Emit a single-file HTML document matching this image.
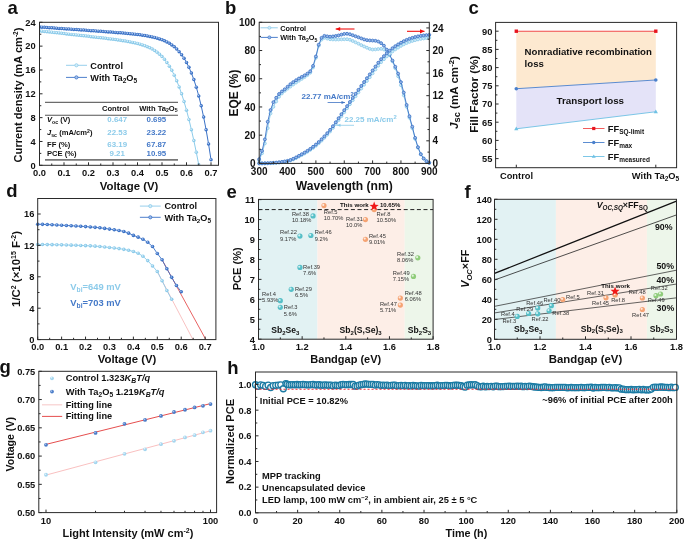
<!DOCTYPE html><html><head><meta charset="utf-8"><style>html,body{margin:0;padding:0;background:#fff;overflow:hidden}svg{display:block;filter:blur(0.45px)}</style></head><body><svg width="685" height="539" viewBox="0 0 685 539" font-family="Liberation Sans, sans-serif">
<rect width="685" height="539" fill="#fff"/>
<text x="7.40" y="14.40" font-size="18.5" font-weight="bold" text-anchor="start" fill="#111" >a</text>
<clipPath id="ca"><rect x="40.0" y="22.8" width="178.0" height="142.0"/></clipPath><g clip-path="url(#ca)">
<polyline points="39.50,30.87 41.95,31.14 44.40,31.42 46.85,31.69 49.30,31.96 51.75,32.24 54.20,32.51 56.65,32.79 59.10,33.06 61.55,33.33 64.00,33.61 66.45,33.88 68.90,34.16 71.35,34.43 73.80,34.71 76.25,34.98 78.70,35.26 81.15,35.53 83.60,35.81 86.05,36.09 88.50,36.37 90.95,36.65 93.40,36.93 95.85,37.21 98.30,37.50 100.75,37.79 103.20,38.08 105.65,38.37 108.10,38.68 110.55,38.98 113.00,39.30 115.45,39.62 117.90,39.96 120.35,40.30 122.80,40.67 125.25,41.06 127.70,41.47 130.15,41.91 132.60,42.39 135.05,42.92 137.50,43.50 139.95,44.15 142.40,44.88 144.85,45.72 147.30,46.67 149.75,47.77 152.20,49.04 154.65,50.51 157.10,52.23 159.55,54.24 162.00,56.58 164.45,59.30 166.90,62.47 169.35,66.14 171.80,70.36 174.25,75.19 176.70,80.69 179.15,86.90 181.60,93.87 184.05,101.61 186.50,110.15 188.95,119.50 191.40,129.66 193.85,140.61 196.30,152.33 198.75,164.81" fill="none" stroke="#8ccbea" stroke-width="1.0" />
<circle cx="39.50" cy="30.87" r="1.75" fill="#8ccbea"/>
<circle cx="39.15" cy="30.52" r="0.79" fill="#e2f3fb"/>
<circle cx="41.95" cy="31.14" r="1.75" fill="#8ccbea"/>
<circle cx="41.60" cy="30.79" r="0.79" fill="#e2f3fb"/>
<circle cx="44.40" cy="31.42" r="1.75" fill="#8ccbea"/>
<circle cx="44.05" cy="31.07" r="0.79" fill="#e2f3fb"/>
<circle cx="46.85" cy="31.69" r="1.75" fill="#8ccbea"/>
<circle cx="46.50" cy="31.34" r="0.79" fill="#e2f3fb"/>
<circle cx="49.30" cy="31.96" r="1.75" fill="#8ccbea"/>
<circle cx="48.95" cy="31.61" r="0.79" fill="#e2f3fb"/>
<circle cx="51.75" cy="32.24" r="1.75" fill="#8ccbea"/>
<circle cx="51.40" cy="31.89" r="0.79" fill="#e2f3fb"/>
<circle cx="54.20" cy="32.51" r="1.75" fill="#8ccbea"/>
<circle cx="53.85" cy="32.16" r="0.79" fill="#e2f3fb"/>
<circle cx="56.65" cy="32.79" r="1.75" fill="#8ccbea"/>
<circle cx="56.30" cy="32.44" r="0.79" fill="#e2f3fb"/>
<circle cx="59.10" cy="33.06" r="1.75" fill="#8ccbea"/>
<circle cx="58.75" cy="32.71" r="0.79" fill="#e2f3fb"/>
<circle cx="61.55" cy="33.33" r="1.75" fill="#8ccbea"/>
<circle cx="61.20" cy="32.98" r="0.79" fill="#e2f3fb"/>
<circle cx="64.00" cy="33.61" r="1.75" fill="#8ccbea"/>
<circle cx="63.65" cy="33.26" r="0.79" fill="#e2f3fb"/>
<circle cx="66.45" cy="33.88" r="1.75" fill="#8ccbea"/>
<circle cx="66.10" cy="33.53" r="0.79" fill="#e2f3fb"/>
<circle cx="68.90" cy="34.16" r="1.75" fill="#8ccbea"/>
<circle cx="68.55" cy="33.81" r="0.79" fill="#e2f3fb"/>
<circle cx="71.35" cy="34.43" r="1.75" fill="#8ccbea"/>
<circle cx="71.00" cy="34.08" r="0.79" fill="#e2f3fb"/>
<circle cx="73.80" cy="34.71" r="1.75" fill="#8ccbea"/>
<circle cx="73.45" cy="34.36" r="0.79" fill="#e2f3fb"/>
<circle cx="76.25" cy="34.98" r="1.75" fill="#8ccbea"/>
<circle cx="75.90" cy="34.63" r="0.79" fill="#e2f3fb"/>
<circle cx="78.70" cy="35.26" r="1.75" fill="#8ccbea"/>
<circle cx="78.35" cy="34.91" r="0.79" fill="#e2f3fb"/>
<circle cx="81.15" cy="35.53" r="1.75" fill="#8ccbea"/>
<circle cx="80.80" cy="35.18" r="0.79" fill="#e2f3fb"/>
<circle cx="83.60" cy="35.81" r="1.75" fill="#8ccbea"/>
<circle cx="83.25" cy="35.46" r="0.79" fill="#e2f3fb"/>
<circle cx="86.05" cy="36.09" r="1.75" fill="#8ccbea"/>
<circle cx="85.70" cy="35.74" r="0.79" fill="#e2f3fb"/>
<circle cx="88.50" cy="36.37" r="1.75" fill="#8ccbea"/>
<circle cx="88.15" cy="36.02" r="0.79" fill="#e2f3fb"/>
<circle cx="90.95" cy="36.65" r="1.75" fill="#8ccbea"/>
<circle cx="90.60" cy="36.30" r="0.79" fill="#e2f3fb"/>
<circle cx="93.40" cy="36.93" r="1.75" fill="#8ccbea"/>
<circle cx="93.05" cy="36.58" r="0.79" fill="#e2f3fb"/>
<circle cx="95.85" cy="37.21" r="1.75" fill="#8ccbea"/>
<circle cx="95.50" cy="36.86" r="0.79" fill="#e2f3fb"/>
<circle cx="98.30" cy="37.50" r="1.75" fill="#8ccbea"/>
<circle cx="97.95" cy="37.15" r="0.79" fill="#e2f3fb"/>
<circle cx="100.75" cy="37.79" r="1.75" fill="#8ccbea"/>
<circle cx="100.40" cy="37.44" r="0.79" fill="#e2f3fb"/>
<circle cx="103.20" cy="38.08" r="1.75" fill="#8ccbea"/>
<circle cx="102.85" cy="37.73" r="0.79" fill="#e2f3fb"/>
<circle cx="105.65" cy="38.37" r="1.75" fill="#8ccbea"/>
<circle cx="105.30" cy="38.02" r="0.79" fill="#e2f3fb"/>
<circle cx="108.10" cy="38.68" r="1.75" fill="#8ccbea"/>
<circle cx="107.75" cy="38.33" r="0.79" fill="#e2f3fb"/>
<circle cx="110.55" cy="38.98" r="1.75" fill="#8ccbea"/>
<circle cx="110.20" cy="38.63" r="0.79" fill="#e2f3fb"/>
<circle cx="113.00" cy="39.30" r="1.75" fill="#8ccbea"/>
<circle cx="112.65" cy="38.95" r="0.79" fill="#e2f3fb"/>
<circle cx="115.45" cy="39.62" r="1.75" fill="#8ccbea"/>
<circle cx="115.10" cy="39.27" r="0.79" fill="#e2f3fb"/>
<circle cx="117.90" cy="39.96" r="1.75" fill="#8ccbea"/>
<circle cx="117.55" cy="39.61" r="0.79" fill="#e2f3fb"/>
<circle cx="120.35" cy="40.30" r="1.75" fill="#8ccbea"/>
<circle cx="120.00" cy="39.95" r="0.79" fill="#e2f3fb"/>
<circle cx="122.80" cy="40.67" r="1.75" fill="#8ccbea"/>
<circle cx="122.45" cy="40.32" r="0.79" fill="#e2f3fb"/>
<circle cx="125.25" cy="41.06" r="1.75" fill="#8ccbea"/>
<circle cx="124.90" cy="40.71" r="0.79" fill="#e2f3fb"/>
<circle cx="127.70" cy="41.47" r="1.75" fill="#8ccbea"/>
<circle cx="127.35" cy="41.12" r="0.79" fill="#e2f3fb"/>
<circle cx="130.15" cy="41.91" r="1.75" fill="#8ccbea"/>
<circle cx="129.80" cy="41.56" r="0.79" fill="#e2f3fb"/>
<circle cx="132.60" cy="42.39" r="1.75" fill="#8ccbea"/>
<circle cx="132.25" cy="42.04" r="0.79" fill="#e2f3fb"/>
<circle cx="135.05" cy="42.92" r="1.75" fill="#8ccbea"/>
<circle cx="134.70" cy="42.57" r="0.79" fill="#e2f3fb"/>
<circle cx="137.50" cy="43.50" r="1.75" fill="#8ccbea"/>
<circle cx="137.15" cy="43.15" r="0.79" fill="#e2f3fb"/>
<circle cx="139.95" cy="44.15" r="1.75" fill="#8ccbea"/>
<circle cx="139.60" cy="43.80" r="0.79" fill="#e2f3fb"/>
<circle cx="142.40" cy="44.88" r="1.75" fill="#8ccbea"/>
<circle cx="142.05" cy="44.53" r="0.79" fill="#e2f3fb"/>
<circle cx="144.85" cy="45.72" r="1.75" fill="#8ccbea"/>
<circle cx="144.50" cy="45.37" r="0.79" fill="#e2f3fb"/>
<circle cx="147.30" cy="46.67" r="1.75" fill="#8ccbea"/>
<circle cx="146.95" cy="46.32" r="0.79" fill="#e2f3fb"/>
<circle cx="149.75" cy="47.77" r="1.75" fill="#8ccbea"/>
<circle cx="149.40" cy="47.42" r="0.79" fill="#e2f3fb"/>
<circle cx="152.20" cy="49.04" r="1.75" fill="#8ccbea"/>
<circle cx="151.85" cy="48.69" r="0.79" fill="#e2f3fb"/>
<circle cx="154.65" cy="50.51" r="1.75" fill="#8ccbea"/>
<circle cx="154.30" cy="50.16" r="0.79" fill="#e2f3fb"/>
<circle cx="157.10" cy="52.23" r="1.75" fill="#8ccbea"/>
<circle cx="156.75" cy="51.88" r="0.79" fill="#e2f3fb"/>
<circle cx="159.55" cy="54.24" r="1.75" fill="#8ccbea"/>
<circle cx="159.20" cy="53.89" r="0.79" fill="#e2f3fb"/>
<circle cx="162.00" cy="56.58" r="1.75" fill="#8ccbea"/>
<circle cx="161.65" cy="56.23" r="0.79" fill="#e2f3fb"/>
<circle cx="164.45" cy="59.30" r="1.75" fill="#8ccbea"/>
<circle cx="164.10" cy="58.95" r="0.79" fill="#e2f3fb"/>
<circle cx="166.90" cy="62.47" r="1.75" fill="#8ccbea"/>
<circle cx="166.55" cy="62.12" r="0.79" fill="#e2f3fb"/>
<circle cx="169.35" cy="66.14" r="1.75" fill="#8ccbea"/>
<circle cx="169.00" cy="65.79" r="0.79" fill="#e2f3fb"/>
<circle cx="171.80" cy="70.36" r="1.75" fill="#8ccbea"/>
<circle cx="171.45" cy="70.01" r="0.79" fill="#e2f3fb"/>
<circle cx="174.25" cy="75.19" r="1.75" fill="#8ccbea"/>
<circle cx="173.90" cy="74.84" r="0.79" fill="#e2f3fb"/>
<circle cx="176.70" cy="80.69" r="1.75" fill="#8ccbea"/>
<circle cx="176.35" cy="80.34" r="0.79" fill="#e2f3fb"/>
<circle cx="179.15" cy="86.90" r="1.75" fill="#8ccbea"/>
<circle cx="178.80" cy="86.55" r="0.79" fill="#e2f3fb"/>
<circle cx="181.60" cy="93.87" r="1.75" fill="#8ccbea"/>
<circle cx="181.25" cy="93.52" r="0.79" fill="#e2f3fb"/>
<circle cx="184.05" cy="101.61" r="1.75" fill="#8ccbea"/>
<circle cx="183.70" cy="101.26" r="0.79" fill="#e2f3fb"/>
<circle cx="186.50" cy="110.15" r="1.75" fill="#8ccbea"/>
<circle cx="186.15" cy="109.80" r="0.79" fill="#e2f3fb"/>
<circle cx="188.95" cy="119.50" r="1.75" fill="#8ccbea"/>
<circle cx="188.60" cy="119.15" r="0.79" fill="#e2f3fb"/>
<circle cx="191.40" cy="129.66" r="1.75" fill="#8ccbea"/>
<circle cx="191.05" cy="129.31" r="0.79" fill="#e2f3fb"/>
<circle cx="193.85" cy="140.61" r="1.75" fill="#8ccbea"/>
<circle cx="193.50" cy="140.26" r="0.79" fill="#e2f3fb"/>
<circle cx="196.30" cy="152.33" r="1.75" fill="#8ccbea"/>
<circle cx="195.95" cy="151.98" r="0.79" fill="#e2f3fb"/>
<circle cx="198.75" cy="164.81" r="1.75" fill="#8ccbea"/>
<circle cx="198.40" cy="164.46" r="0.79" fill="#e2f3fb"/>
<polyline points="39.50,27.00 41.95,27.18 44.40,27.35 46.85,27.52 49.30,27.69 51.75,27.87 54.20,28.04 56.65,28.21 59.10,28.38 61.55,28.56 64.00,28.73 66.45,28.90 68.90,29.07 71.35,29.25 73.80,29.42 76.25,29.59 78.70,29.77 81.15,29.94 83.60,30.12 86.05,30.29 88.50,30.46 90.95,30.64 93.40,30.82 95.85,30.99 98.30,31.17 100.75,31.35 103.20,31.53 105.65,31.71 108.10,31.90 110.55,32.08 113.00,32.27 115.45,32.46 117.90,32.66 120.35,32.86 122.80,33.07 125.25,33.29 127.70,33.51 130.15,33.75 132.60,34.00 135.05,34.26 137.50,34.54 139.95,34.85 142.40,35.18 144.85,35.54 147.30,35.95 149.75,36.40 152.20,36.90 154.65,37.48 157.10,38.14 159.55,38.89 162.00,39.76 164.45,40.77 166.90,41.95 169.35,43.32 171.80,44.93 174.25,46.82 176.70,49.04 179.15,51.64 181.60,54.69 184.05,58.27 186.50,62.46 188.95,67.35 191.40,73.04 193.85,79.62 196.30,87.22 198.75,95.92 201.20,105.86 203.65,117.11 206.10,129.78 208.55,143.95 211.00,159.68" fill="none" stroke="#3b72c6" stroke-width="1.0" />
<circle cx="39.50" cy="27.00" r="1.75" fill="#3b72c6"/>
<circle cx="39.15" cy="26.65" r="0.79" fill="#b4cbef"/>
<circle cx="41.95" cy="27.18" r="1.75" fill="#3b72c6"/>
<circle cx="41.60" cy="26.83" r="0.79" fill="#b4cbef"/>
<circle cx="44.40" cy="27.35" r="1.75" fill="#3b72c6"/>
<circle cx="44.05" cy="27.00" r="0.79" fill="#b4cbef"/>
<circle cx="46.85" cy="27.52" r="1.75" fill="#3b72c6"/>
<circle cx="46.50" cy="27.17" r="0.79" fill="#b4cbef"/>
<circle cx="49.30" cy="27.69" r="1.75" fill="#3b72c6"/>
<circle cx="48.95" cy="27.34" r="0.79" fill="#b4cbef"/>
<circle cx="51.75" cy="27.87" r="1.75" fill="#3b72c6"/>
<circle cx="51.40" cy="27.52" r="0.79" fill="#b4cbef"/>
<circle cx="54.20" cy="28.04" r="1.75" fill="#3b72c6"/>
<circle cx="53.85" cy="27.69" r="0.79" fill="#b4cbef"/>
<circle cx="56.65" cy="28.21" r="1.75" fill="#3b72c6"/>
<circle cx="56.30" cy="27.86" r="0.79" fill="#b4cbef"/>
<circle cx="59.10" cy="28.38" r="1.75" fill="#3b72c6"/>
<circle cx="58.75" cy="28.03" r="0.79" fill="#b4cbef"/>
<circle cx="61.55" cy="28.56" r="1.75" fill="#3b72c6"/>
<circle cx="61.20" cy="28.21" r="0.79" fill="#b4cbef"/>
<circle cx="64.00" cy="28.73" r="1.75" fill="#3b72c6"/>
<circle cx="63.65" cy="28.38" r="0.79" fill="#b4cbef"/>
<circle cx="66.45" cy="28.90" r="1.75" fill="#3b72c6"/>
<circle cx="66.10" cy="28.55" r="0.79" fill="#b4cbef"/>
<circle cx="68.90" cy="29.07" r="1.75" fill="#3b72c6"/>
<circle cx="68.55" cy="28.72" r="0.79" fill="#b4cbef"/>
<circle cx="71.35" cy="29.25" r="1.75" fill="#3b72c6"/>
<circle cx="71.00" cy="28.90" r="0.79" fill="#b4cbef"/>
<circle cx="73.80" cy="29.42" r="1.75" fill="#3b72c6"/>
<circle cx="73.45" cy="29.07" r="0.79" fill="#b4cbef"/>
<circle cx="76.25" cy="29.59" r="1.75" fill="#3b72c6"/>
<circle cx="75.90" cy="29.24" r="0.79" fill="#b4cbef"/>
<circle cx="78.70" cy="29.77" r="1.75" fill="#3b72c6"/>
<circle cx="78.35" cy="29.42" r="0.79" fill="#b4cbef"/>
<circle cx="81.15" cy="29.94" r="1.75" fill="#3b72c6"/>
<circle cx="80.80" cy="29.59" r="0.79" fill="#b4cbef"/>
<circle cx="83.60" cy="30.12" r="1.75" fill="#3b72c6"/>
<circle cx="83.25" cy="29.77" r="0.79" fill="#b4cbef"/>
<circle cx="86.05" cy="30.29" r="1.75" fill="#3b72c6"/>
<circle cx="85.70" cy="29.94" r="0.79" fill="#b4cbef"/>
<circle cx="88.50" cy="30.46" r="1.75" fill="#3b72c6"/>
<circle cx="88.15" cy="30.11" r="0.79" fill="#b4cbef"/>
<circle cx="90.95" cy="30.64" r="1.75" fill="#3b72c6"/>
<circle cx="90.60" cy="30.29" r="0.79" fill="#b4cbef"/>
<circle cx="93.40" cy="30.82" r="1.75" fill="#3b72c6"/>
<circle cx="93.05" cy="30.47" r="0.79" fill="#b4cbef"/>
<circle cx="95.85" cy="30.99" r="1.75" fill="#3b72c6"/>
<circle cx="95.50" cy="30.64" r="0.79" fill="#b4cbef"/>
<circle cx="98.30" cy="31.17" r="1.75" fill="#3b72c6"/>
<circle cx="97.95" cy="30.82" r="0.79" fill="#b4cbef"/>
<circle cx="100.75" cy="31.35" r="1.75" fill="#3b72c6"/>
<circle cx="100.40" cy="31.00" r="0.79" fill="#b4cbef"/>
<circle cx="103.20" cy="31.53" r="1.75" fill="#3b72c6"/>
<circle cx="102.85" cy="31.18" r="0.79" fill="#b4cbef"/>
<circle cx="105.65" cy="31.71" r="1.75" fill="#3b72c6"/>
<circle cx="105.30" cy="31.36" r="0.79" fill="#b4cbef"/>
<circle cx="108.10" cy="31.90" r="1.75" fill="#3b72c6"/>
<circle cx="107.75" cy="31.55" r="0.79" fill="#b4cbef"/>
<circle cx="110.55" cy="32.08" r="1.75" fill="#3b72c6"/>
<circle cx="110.20" cy="31.73" r="0.79" fill="#b4cbef"/>
<circle cx="113.00" cy="32.27" r="1.75" fill="#3b72c6"/>
<circle cx="112.65" cy="31.92" r="0.79" fill="#b4cbef"/>
<circle cx="115.45" cy="32.46" r="1.75" fill="#3b72c6"/>
<circle cx="115.10" cy="32.11" r="0.79" fill="#b4cbef"/>
<circle cx="117.90" cy="32.66" r="1.75" fill="#3b72c6"/>
<circle cx="117.55" cy="32.31" r="0.79" fill="#b4cbef"/>
<circle cx="120.35" cy="32.86" r="1.75" fill="#3b72c6"/>
<circle cx="120.00" cy="32.51" r="0.79" fill="#b4cbef"/>
<circle cx="122.80" cy="33.07" r="1.75" fill="#3b72c6"/>
<circle cx="122.45" cy="32.72" r="0.79" fill="#b4cbef"/>
<circle cx="125.25" cy="33.29" r="1.75" fill="#3b72c6"/>
<circle cx="124.90" cy="32.94" r="0.79" fill="#b4cbef"/>
<circle cx="127.70" cy="33.51" r="1.75" fill="#3b72c6"/>
<circle cx="127.35" cy="33.16" r="0.79" fill="#b4cbef"/>
<circle cx="130.15" cy="33.75" r="1.75" fill="#3b72c6"/>
<circle cx="129.80" cy="33.40" r="0.79" fill="#b4cbef"/>
<circle cx="132.60" cy="34.00" r="1.75" fill="#3b72c6"/>
<circle cx="132.25" cy="33.65" r="0.79" fill="#b4cbef"/>
<circle cx="135.05" cy="34.26" r="1.75" fill="#3b72c6"/>
<circle cx="134.70" cy="33.91" r="0.79" fill="#b4cbef"/>
<circle cx="137.50" cy="34.54" r="1.75" fill="#3b72c6"/>
<circle cx="137.15" cy="34.19" r="0.79" fill="#b4cbef"/>
<circle cx="139.95" cy="34.85" r="1.75" fill="#3b72c6"/>
<circle cx="139.60" cy="34.50" r="0.79" fill="#b4cbef"/>
<circle cx="142.40" cy="35.18" r="1.75" fill="#3b72c6"/>
<circle cx="142.05" cy="34.83" r="0.79" fill="#b4cbef"/>
<circle cx="144.85" cy="35.54" r="1.75" fill="#3b72c6"/>
<circle cx="144.50" cy="35.19" r="0.79" fill="#b4cbef"/>
<circle cx="147.30" cy="35.95" r="1.75" fill="#3b72c6"/>
<circle cx="146.95" cy="35.60" r="0.79" fill="#b4cbef"/>
<circle cx="149.75" cy="36.40" r="1.75" fill="#3b72c6"/>
<circle cx="149.40" cy="36.05" r="0.79" fill="#b4cbef"/>
<circle cx="152.20" cy="36.90" r="1.75" fill="#3b72c6"/>
<circle cx="151.85" cy="36.55" r="0.79" fill="#b4cbef"/>
<circle cx="154.65" cy="37.48" r="1.75" fill="#3b72c6"/>
<circle cx="154.30" cy="37.13" r="0.79" fill="#b4cbef"/>
<circle cx="157.10" cy="38.14" r="1.75" fill="#3b72c6"/>
<circle cx="156.75" cy="37.79" r="0.79" fill="#b4cbef"/>
<circle cx="159.55" cy="38.89" r="1.75" fill="#3b72c6"/>
<circle cx="159.20" cy="38.54" r="0.79" fill="#b4cbef"/>
<circle cx="162.00" cy="39.76" r="1.75" fill="#3b72c6"/>
<circle cx="161.65" cy="39.41" r="0.79" fill="#b4cbef"/>
<circle cx="164.45" cy="40.77" r="1.75" fill="#3b72c6"/>
<circle cx="164.10" cy="40.42" r="0.79" fill="#b4cbef"/>
<circle cx="166.90" cy="41.95" r="1.75" fill="#3b72c6"/>
<circle cx="166.55" cy="41.60" r="0.79" fill="#b4cbef"/>
<circle cx="169.35" cy="43.32" r="1.75" fill="#3b72c6"/>
<circle cx="169.00" cy="42.97" r="0.79" fill="#b4cbef"/>
<circle cx="171.80" cy="44.93" r="1.75" fill="#3b72c6"/>
<circle cx="171.45" cy="44.58" r="0.79" fill="#b4cbef"/>
<circle cx="174.25" cy="46.82" r="1.75" fill="#3b72c6"/>
<circle cx="173.90" cy="46.47" r="0.79" fill="#b4cbef"/>
<circle cx="176.70" cy="49.04" r="1.75" fill="#3b72c6"/>
<circle cx="176.35" cy="48.69" r="0.79" fill="#b4cbef"/>
<circle cx="179.15" cy="51.64" r="1.75" fill="#3b72c6"/>
<circle cx="178.80" cy="51.29" r="0.79" fill="#b4cbef"/>
<circle cx="181.60" cy="54.69" r="1.75" fill="#3b72c6"/>
<circle cx="181.25" cy="54.34" r="0.79" fill="#b4cbef"/>
<circle cx="184.05" cy="58.27" r="1.75" fill="#3b72c6"/>
<circle cx="183.70" cy="57.92" r="0.79" fill="#b4cbef"/>
<circle cx="186.50" cy="62.46" r="1.75" fill="#3b72c6"/>
<circle cx="186.15" cy="62.11" r="0.79" fill="#b4cbef"/>
<circle cx="188.95" cy="67.35" r="1.75" fill="#3b72c6"/>
<circle cx="188.60" cy="67.00" r="0.79" fill="#b4cbef"/>
<circle cx="191.40" cy="73.04" r="1.75" fill="#3b72c6"/>
<circle cx="191.05" cy="72.69" r="0.79" fill="#b4cbef"/>
<circle cx="193.85" cy="79.62" r="1.75" fill="#3b72c6"/>
<circle cx="193.50" cy="79.27" r="0.79" fill="#b4cbef"/>
<circle cx="196.30" cy="87.22" r="1.75" fill="#3b72c6"/>
<circle cx="195.95" cy="86.87" r="0.79" fill="#b4cbef"/>
<circle cx="198.75" cy="95.92" r="1.75" fill="#3b72c6"/>
<circle cx="198.40" cy="95.57" r="0.79" fill="#b4cbef"/>
<circle cx="201.20" cy="105.86" r="1.75" fill="#3b72c6"/>
<circle cx="200.85" cy="105.51" r="0.79" fill="#b4cbef"/>
<circle cx="203.65" cy="117.11" r="1.75" fill="#3b72c6"/>
<circle cx="203.30" cy="116.76" r="0.79" fill="#b4cbef"/>
<circle cx="206.10" cy="129.78" r="1.75" fill="#3b72c6"/>
<circle cx="205.75" cy="129.43" r="0.79" fill="#b4cbef"/>
<circle cx="208.55" cy="143.95" r="1.75" fill="#3b72c6"/>
<circle cx="208.20" cy="143.60" r="0.79" fill="#b4cbef"/>
<circle cx="211.00" cy="159.68" r="1.75" fill="#3b72c6"/>
<circle cx="210.65" cy="159.33" r="0.79" fill="#b4cbef"/>
</g>
<rect x="39.50" y="22.30" width="179.00" height="143.00" fill="none" stroke="#2a2a2a" stroke-width="1"/>
<line x1="39.50" y1="165.30" x2="39.50" y2="162.30" stroke="#2a2a2a" stroke-width="1" />
<line x1="64.00" y1="165.30" x2="64.00" y2="162.30" stroke="#2a2a2a" stroke-width="1" />
<line x1="88.50" y1="165.30" x2="88.50" y2="162.30" stroke="#2a2a2a" stroke-width="1" />
<line x1="113.00" y1="165.30" x2="113.00" y2="162.30" stroke="#2a2a2a" stroke-width="1" />
<line x1="137.50" y1="165.30" x2="137.50" y2="162.30" stroke="#2a2a2a" stroke-width="1" />
<line x1="162.00" y1="165.30" x2="162.00" y2="162.30" stroke="#2a2a2a" stroke-width="1" />
<line x1="186.50" y1="165.30" x2="186.50" y2="162.30" stroke="#2a2a2a" stroke-width="1" />
<line x1="211.00" y1="165.30" x2="211.00" y2="162.30" stroke="#2a2a2a" stroke-width="1" />
<line x1="51.75" y1="165.30" x2="51.75" y2="163.50" stroke="#2a2a2a" stroke-width="1" />
<line x1="76.25" y1="165.30" x2="76.25" y2="163.50" stroke="#2a2a2a" stroke-width="1" />
<line x1="100.75" y1="165.30" x2="100.75" y2="163.50" stroke="#2a2a2a" stroke-width="1" />
<line x1="125.25" y1="165.30" x2="125.25" y2="163.50" stroke="#2a2a2a" stroke-width="1" />
<line x1="149.75" y1="165.30" x2="149.75" y2="163.50" stroke="#2a2a2a" stroke-width="1" />
<line x1="174.25" y1="165.30" x2="174.25" y2="163.50" stroke="#2a2a2a" stroke-width="1" />
<line x1="198.75" y1="165.30" x2="198.75" y2="163.50" stroke="#2a2a2a" stroke-width="1" />
<line x1="39.50" y1="165.30" x2="42.50" y2="165.30" stroke="#2a2a2a" stroke-width="1" />
<line x1="39.50" y1="141.47" x2="42.50" y2="141.47" stroke="#2a2a2a" stroke-width="1" />
<line x1="39.50" y1="117.63" x2="42.50" y2="117.63" stroke="#2a2a2a" stroke-width="1" />
<line x1="39.50" y1="93.80" x2="42.50" y2="93.80" stroke="#2a2a2a" stroke-width="1" />
<line x1="39.50" y1="69.97" x2="42.50" y2="69.97" stroke="#2a2a2a" stroke-width="1" />
<line x1="39.50" y1="46.13" x2="42.50" y2="46.13" stroke="#2a2a2a" stroke-width="1" />
<line x1="39.50" y1="22.30" x2="42.50" y2="22.30" stroke="#2a2a2a" stroke-width="1" />
<line x1="39.50" y1="153.38" x2="41.30" y2="153.38" stroke="#2a2a2a" stroke-width="1" />
<line x1="39.50" y1="129.55" x2="41.30" y2="129.55" stroke="#2a2a2a" stroke-width="1" />
<line x1="39.50" y1="105.72" x2="41.30" y2="105.72" stroke="#2a2a2a" stroke-width="1" />
<line x1="39.50" y1="81.88" x2="41.30" y2="81.88" stroke="#2a2a2a" stroke-width="1" />
<line x1="39.50" y1="58.05" x2="41.30" y2="58.05" stroke="#2a2a2a" stroke-width="1" />
<line x1="39.50" y1="34.22" x2="41.30" y2="34.22" stroke="#2a2a2a" stroke-width="1" />
<text x="39.50" y="176.30" font-size="9.3" font-weight="bold" text-anchor="middle" fill="#111" >0.0</text>
<text x="64.00" y="176.30" font-size="9.3" font-weight="bold" text-anchor="middle" fill="#111" >0.1</text>
<text x="88.50" y="176.30" font-size="9.3" font-weight="bold" text-anchor="middle" fill="#111" >0.2</text>
<text x="113.00" y="176.30" font-size="9.3" font-weight="bold" text-anchor="middle" fill="#111" >0.3</text>
<text x="137.50" y="176.30" font-size="9.3" font-weight="bold" text-anchor="middle" fill="#111" >0.4</text>
<text x="162.00" y="176.30" font-size="9.3" font-weight="bold" text-anchor="middle" fill="#111" >0.5</text>
<text x="186.50" y="176.30" font-size="9.3" font-weight="bold" text-anchor="middle" fill="#111" >0.6</text>
<text x="211.00" y="176.30" font-size="9.3" font-weight="bold" text-anchor="middle" fill="#111" >0.7</text>
<text x="35.60" y="168.65" font-size="9.3" font-weight="bold" text-anchor="end" fill="#111" >0</text>
<text x="35.60" y="144.82" font-size="9.3" font-weight="bold" text-anchor="end" fill="#111" >4</text>
<text x="35.60" y="120.98" font-size="9.3" font-weight="bold" text-anchor="end" fill="#111" >8</text>
<text x="35.60" y="97.15" font-size="9.3" font-weight="bold" text-anchor="end" fill="#111" >12</text>
<text x="35.60" y="73.32" font-size="9.3" font-weight="bold" text-anchor="end" fill="#111" >16</text>
<text x="35.60" y="49.48" font-size="9.3" font-weight="bold" text-anchor="end" fill="#111" >20</text>
<text x="35.60" y="25.65" font-size="9.3" font-weight="bold" text-anchor="end" fill="#111" >24</text>
<text x="129.00" y="189.50" font-size="11.4" font-weight="bold" text-anchor="middle" fill="#111" >Voltage (V)</text>
<text transform="translate(21.90,95.00) rotate(-90)" font-size="11.1" font-weight="bold" text-anchor="middle" fill="#111">Current density (mA cm<tspan dy="-3.5" font-size="6.5">-2</tspan><tspan dy="3.5">​</tspan>)</text>
<line x1="66.00" y1="65.30" x2="87.00" y2="65.30" stroke="#8ccbea" stroke-width="0.9" />
<circle cx="76.40" cy="65.30" r="1.6" fill="#d6eef9" stroke="#8ccbea" stroke-width="0.8"/>
<line x1="66.00" y1="77.40" x2="87.00" y2="77.40" stroke="#3b72c6" stroke-width="0.9" />
<circle cx="76.40" cy="77.40" r="1.6" fill="#a9c3ec" stroke="#3b72c6" stroke-width="0.8"/>
<text x="90.30" y="68.70" font-size="9.2" font-weight="bold" text-anchor="start" fill="#111" >Control</text>
<text x="90.30" y="80.80" font-size="9.2" font-weight="bold" text-anchor="start" fill="#111" >With Ta<tspan dy="2" font-size="6.5">2</tspan><tspan dy="-2">​</tspan>O<tspan dy="2" font-size="6.5">5</tspan><tspan dy="-2">​</tspan></text>
<line x1="45.00" y1="102.30" x2="178.00" y2="102.30" stroke="#333" stroke-width="0.9" />
<line x1="45.00" y1="115.20" x2="178.00" y2="115.20" stroke="#555" stroke-width="1.1" />
<line x1="45.00" y1="159.80" x2="178.00" y2="159.80" stroke="#777" stroke-width="1.7" />
<text x="115.50" y="110.70" font-size="7.6" font-weight="bold" text-anchor="middle" fill="#111" >Control</text>
<text x="158.40" y="110.70" font-size="7.6" font-weight="bold" text-anchor="middle" fill="#111" >With Ta<tspan dy="1.6" font-size="5.2">2</tspan><tspan dy="-1.6">​</tspan>O<tspan dy="1.6" font-size="5.2">5</tspan><tspan dy="-1.6">​</tspan></text>
<text x="47.00" y="122.10" font-size="7.6" font-weight="bold" text-anchor="start" fill="#111" ><tspan font-style="italic">V</tspan><tspan dy="1.5" font-size="5.2">oc</tspan><tspan dy="-1.5">​</tspan> (V)</text>
<text x="47.00" y="135.20" font-size="7.6" font-weight="bold" text-anchor="start" fill="#111" ><tspan font-style="italic">J</tspan><tspan dy="1.5" font-size="5.2">sc</tspan><tspan dy="-1.5">​</tspan> (mA/cm<tspan dy="-2.5" font-size="5.2">2</tspan><tspan dy="2.5">​</tspan>)</text>
<text x="47.00" y="147.00" font-size="7.6" font-weight="bold" text-anchor="start" fill="#111" >FF (%)</text>
<text x="47.00" y="156.20" font-size="7.6" font-weight="bold" text-anchor="start" fill="#111" >PCE (%)</text>
<text x="117.20" y="122.10" font-size="7.9" font-weight="bold" text-anchor="middle" fill="#8ccbea" >0.647</text>
<text x="156.40" y="122.10" font-size="7.9" font-weight="bold" text-anchor="middle" fill="#4479c8" >0.695</text>
<text x="117.20" y="135.20" font-size="7.9" font-weight="bold" text-anchor="middle" fill="#8ccbea" >22.53</text>
<text x="156.40" y="135.20" font-size="7.9" font-weight="bold" text-anchor="middle" fill="#4479c8" >23.22</text>
<text x="117.20" y="147.00" font-size="7.9" font-weight="bold" text-anchor="middle" fill="#8ccbea" >63.19</text>
<text x="156.40" y="147.00" font-size="7.9" font-weight="bold" text-anchor="middle" fill="#4479c8" >67.87</text>
<text x="117.20" y="156.20" font-size="7.9" font-weight="bold" text-anchor="middle" fill="#8ccbea" >9.21</text>
<text x="156.40" y="156.20" font-size="7.9" font-weight="bold" text-anchor="middle" fill="#4479c8" >10.95</text>
<text x="225.00" y="13.90" font-size="18.5" font-weight="bold" text-anchor="start" fill="#111" >b</text>
<polyline points="259.20,160.58 262.03,153.28 264.87,143.43 267.70,128.12 270.54,113.45 273.38,106.76 276.21,101.43 279.05,96.68 281.88,93.47 284.71,90.88 287.55,88.66 290.38,86.57 293.22,84.49 296.06,82.57 298.89,80.71 301.73,78.88 304.56,77.10 307.39,75.12 310.23,72.72 313.06,67.45 315.90,57.84 318.74,45.77 321.57,39.58 324.40,37.83 327.24,38.58 330.07,39.25 332.91,39.42 335.75,39.51 338.58,39.48 341.42,39.37 344.25,39.28 347.08,39.23 349.92,39.78 352.75,41.01 355.59,42.34 358.43,43.66 361.26,45.12 364.10,46.45 366.93,47.71 369.76,48.92 372.60,49.53 375.44,49.39 378.27,49.06 381.11,48.84 383.94,49.49 386.78,51.59 389.61,55.16 392.45,61.27 395.28,68.14 398.12,76.27 400.95,85.22 403.79,95.32 406.62,106.81 409.46,117.74 412.29,128.12 415.12,138.92 417.96,147.70 420.80,154.23 423.63,158.51 426.47,161.21 429.30,162.84" fill="none" stroke="#8ccbea" stroke-width="0.9" />
<circle cx="259.20" cy="160.58" r="1.45" fill="#cfeaf8" stroke="#8ccbea" stroke-width="0.85"/>
<circle cx="262.03" cy="153.28" r="1.45" fill="#cfeaf8" stroke="#8ccbea" stroke-width="0.85"/>
<circle cx="264.87" cy="143.43" r="1.45" fill="#cfeaf8" stroke="#8ccbea" stroke-width="0.85"/>
<circle cx="267.70" cy="128.12" r="1.45" fill="#cfeaf8" stroke="#8ccbea" stroke-width="0.85"/>
<circle cx="270.54" cy="113.45" r="1.45" fill="#cfeaf8" stroke="#8ccbea" stroke-width="0.85"/>
<circle cx="273.38" cy="106.76" r="1.45" fill="#cfeaf8" stroke="#8ccbea" stroke-width="0.85"/>
<circle cx="276.21" cy="101.43" r="1.45" fill="#cfeaf8" stroke="#8ccbea" stroke-width="0.85"/>
<circle cx="279.05" cy="96.68" r="1.45" fill="#cfeaf8" stroke="#8ccbea" stroke-width="0.85"/>
<circle cx="281.88" cy="93.47" r="1.45" fill="#cfeaf8" stroke="#8ccbea" stroke-width="0.85"/>
<circle cx="284.71" cy="90.88" r="1.45" fill="#cfeaf8" stroke="#8ccbea" stroke-width="0.85"/>
<circle cx="287.55" cy="88.66" r="1.45" fill="#cfeaf8" stroke="#8ccbea" stroke-width="0.85"/>
<circle cx="290.38" cy="86.57" r="1.45" fill="#cfeaf8" stroke="#8ccbea" stroke-width="0.85"/>
<circle cx="293.22" cy="84.49" r="1.45" fill="#cfeaf8" stroke="#8ccbea" stroke-width="0.85"/>
<circle cx="296.06" cy="82.57" r="1.45" fill="#cfeaf8" stroke="#8ccbea" stroke-width="0.85"/>
<circle cx="298.89" cy="80.71" r="1.45" fill="#cfeaf8" stroke="#8ccbea" stroke-width="0.85"/>
<circle cx="301.73" cy="78.88" r="1.45" fill="#cfeaf8" stroke="#8ccbea" stroke-width="0.85"/>
<circle cx="304.56" cy="77.10" r="1.45" fill="#cfeaf8" stroke="#8ccbea" stroke-width="0.85"/>
<circle cx="307.39" cy="75.12" r="1.45" fill="#cfeaf8" stroke="#8ccbea" stroke-width="0.85"/>
<circle cx="310.23" cy="72.72" r="1.45" fill="#cfeaf8" stroke="#8ccbea" stroke-width="0.85"/>
<circle cx="313.06" cy="67.45" r="1.45" fill="#cfeaf8" stroke="#8ccbea" stroke-width="0.85"/>
<circle cx="315.90" cy="57.84" r="1.45" fill="#cfeaf8" stroke="#8ccbea" stroke-width="0.85"/>
<circle cx="318.74" cy="45.77" r="1.45" fill="#cfeaf8" stroke="#8ccbea" stroke-width="0.85"/>
<circle cx="321.57" cy="39.58" r="1.45" fill="#cfeaf8" stroke="#8ccbea" stroke-width="0.85"/>
<circle cx="324.40" cy="37.83" r="1.45" fill="#cfeaf8" stroke="#8ccbea" stroke-width="0.85"/>
<circle cx="327.24" cy="38.58" r="1.45" fill="#cfeaf8" stroke="#8ccbea" stroke-width="0.85"/>
<circle cx="330.07" cy="39.25" r="1.45" fill="#cfeaf8" stroke="#8ccbea" stroke-width="0.85"/>
<circle cx="332.91" cy="39.42" r="1.45" fill="#cfeaf8" stroke="#8ccbea" stroke-width="0.85"/>
<circle cx="335.75" cy="39.51" r="1.45" fill="#cfeaf8" stroke="#8ccbea" stroke-width="0.85"/>
<circle cx="338.58" cy="39.48" r="1.45" fill="#cfeaf8" stroke="#8ccbea" stroke-width="0.85"/>
<circle cx="341.42" cy="39.37" r="1.45" fill="#cfeaf8" stroke="#8ccbea" stroke-width="0.85"/>
<circle cx="344.25" cy="39.28" r="1.45" fill="#cfeaf8" stroke="#8ccbea" stroke-width="0.85"/>
<circle cx="347.08" cy="39.23" r="1.45" fill="#cfeaf8" stroke="#8ccbea" stroke-width="0.85"/>
<circle cx="349.92" cy="39.78" r="1.45" fill="#cfeaf8" stroke="#8ccbea" stroke-width="0.85"/>
<circle cx="352.75" cy="41.01" r="1.45" fill="#cfeaf8" stroke="#8ccbea" stroke-width="0.85"/>
<circle cx="355.59" cy="42.34" r="1.45" fill="#cfeaf8" stroke="#8ccbea" stroke-width="0.85"/>
<circle cx="358.43" cy="43.66" r="1.45" fill="#cfeaf8" stroke="#8ccbea" stroke-width="0.85"/>
<circle cx="361.26" cy="45.12" r="1.45" fill="#cfeaf8" stroke="#8ccbea" stroke-width="0.85"/>
<circle cx="364.10" cy="46.45" r="1.45" fill="#cfeaf8" stroke="#8ccbea" stroke-width="0.85"/>
<circle cx="366.93" cy="47.71" r="1.45" fill="#cfeaf8" stroke="#8ccbea" stroke-width="0.85"/>
<circle cx="369.76" cy="48.92" r="1.45" fill="#cfeaf8" stroke="#8ccbea" stroke-width="0.85"/>
<circle cx="372.60" cy="49.53" r="1.45" fill="#cfeaf8" stroke="#8ccbea" stroke-width="0.85"/>
<circle cx="375.44" cy="49.39" r="1.45" fill="#cfeaf8" stroke="#8ccbea" stroke-width="0.85"/>
<circle cx="378.27" cy="49.06" r="1.45" fill="#cfeaf8" stroke="#8ccbea" stroke-width="0.85"/>
<circle cx="381.11" cy="48.84" r="1.45" fill="#cfeaf8" stroke="#8ccbea" stroke-width="0.85"/>
<circle cx="383.94" cy="49.49" r="1.45" fill="#cfeaf8" stroke="#8ccbea" stroke-width="0.85"/>
<circle cx="386.78" cy="51.59" r="1.45" fill="#cfeaf8" stroke="#8ccbea" stroke-width="0.85"/>
<circle cx="389.61" cy="55.16" r="1.45" fill="#cfeaf8" stroke="#8ccbea" stroke-width="0.85"/>
<circle cx="392.45" cy="61.27" r="1.45" fill="#cfeaf8" stroke="#8ccbea" stroke-width="0.85"/>
<circle cx="395.28" cy="68.14" r="1.45" fill="#cfeaf8" stroke="#8ccbea" stroke-width="0.85"/>
<circle cx="398.12" cy="76.27" r="1.45" fill="#cfeaf8" stroke="#8ccbea" stroke-width="0.85"/>
<circle cx="400.95" cy="85.22" r="1.45" fill="#cfeaf8" stroke="#8ccbea" stroke-width="0.85"/>
<circle cx="403.79" cy="95.32" r="1.45" fill="#cfeaf8" stroke="#8ccbea" stroke-width="0.85"/>
<circle cx="406.62" cy="106.81" r="1.45" fill="#cfeaf8" stroke="#8ccbea" stroke-width="0.85"/>
<circle cx="409.46" cy="117.74" r="1.45" fill="#cfeaf8" stroke="#8ccbea" stroke-width="0.85"/>
<circle cx="412.29" cy="128.12" r="1.45" fill="#cfeaf8" stroke="#8ccbea" stroke-width="0.85"/>
<circle cx="415.12" cy="138.92" r="1.45" fill="#cfeaf8" stroke="#8ccbea" stroke-width="0.85"/>
<circle cx="417.96" cy="147.70" r="1.45" fill="#cfeaf8" stroke="#8ccbea" stroke-width="0.85"/>
<circle cx="420.80" cy="154.23" r="1.45" fill="#cfeaf8" stroke="#8ccbea" stroke-width="0.85"/>
<circle cx="423.63" cy="158.51" r="1.45" fill="#cfeaf8" stroke="#8ccbea" stroke-width="0.85"/>
<circle cx="426.47" cy="161.21" r="1.45" fill="#cfeaf8" stroke="#8ccbea" stroke-width="0.85"/>
<circle cx="429.30" cy="162.84" r="1.45" fill="#cfeaf8" stroke="#8ccbea" stroke-width="0.85"/>
<polyline points="259.20,159.17 262.03,150.92 264.87,139.39 267.70,121.78 270.54,110.06 273.38,102.17 276.21,97.78 279.05,94.02 281.88,91.47 284.71,89.32 287.55,86.76 290.38,84.21 293.22,82.10 296.06,80.26 298.89,78.55 301.73,76.92 304.56,75.38 307.39,73.59 310.23,71.29 313.06,65.90 315.90,56.47 318.74,44.67 321.57,37.85 324.40,35.86 327.24,36.34 330.07,36.69 332.91,36.44 335.75,35.98 338.58,35.43 341.42,34.64 344.25,33.95 347.08,33.75 349.92,34.29 352.75,35.29 355.59,36.32 358.43,37.30 361.26,38.41 364.10,39.43 366.93,40.14 369.76,40.43 372.60,40.59 375.44,40.81 378.27,41.52 381.11,43.15 383.94,45.67 386.78,49.63 389.61,54.48 392.45,60.50 395.28,66.78 398.12,73.65 400.95,82.12 403.79,92.55 406.62,104.97 409.46,116.30 412.29,126.71 415.12,137.83 417.96,147.17 420.80,154.23 423.63,158.52 426.47,161.21 429.30,162.84" fill="none" stroke="#3b72c6" stroke-width="0.9" />
<circle cx="259.20" cy="159.17" r="1.45" fill="#9dbbe9" stroke="#3b72c6" stroke-width="0.85"/>
<circle cx="262.03" cy="150.92" r="1.45" fill="#9dbbe9" stroke="#3b72c6" stroke-width="0.85"/>
<circle cx="264.87" cy="139.39" r="1.45" fill="#9dbbe9" stroke="#3b72c6" stroke-width="0.85"/>
<circle cx="267.70" cy="121.78" r="1.45" fill="#9dbbe9" stroke="#3b72c6" stroke-width="0.85"/>
<circle cx="270.54" cy="110.06" r="1.45" fill="#9dbbe9" stroke="#3b72c6" stroke-width="0.85"/>
<circle cx="273.38" cy="102.17" r="1.45" fill="#9dbbe9" stroke="#3b72c6" stroke-width="0.85"/>
<circle cx="276.21" cy="97.78" r="1.45" fill="#9dbbe9" stroke="#3b72c6" stroke-width="0.85"/>
<circle cx="279.05" cy="94.02" r="1.45" fill="#9dbbe9" stroke="#3b72c6" stroke-width="0.85"/>
<circle cx="281.88" cy="91.47" r="1.45" fill="#9dbbe9" stroke="#3b72c6" stroke-width="0.85"/>
<circle cx="284.71" cy="89.32" r="1.45" fill="#9dbbe9" stroke="#3b72c6" stroke-width="0.85"/>
<circle cx="287.55" cy="86.76" r="1.45" fill="#9dbbe9" stroke="#3b72c6" stroke-width="0.85"/>
<circle cx="290.38" cy="84.21" r="1.45" fill="#9dbbe9" stroke="#3b72c6" stroke-width="0.85"/>
<circle cx="293.22" cy="82.10" r="1.45" fill="#9dbbe9" stroke="#3b72c6" stroke-width="0.85"/>
<circle cx="296.06" cy="80.26" r="1.45" fill="#9dbbe9" stroke="#3b72c6" stroke-width="0.85"/>
<circle cx="298.89" cy="78.55" r="1.45" fill="#9dbbe9" stroke="#3b72c6" stroke-width="0.85"/>
<circle cx="301.73" cy="76.92" r="1.45" fill="#9dbbe9" stroke="#3b72c6" stroke-width="0.85"/>
<circle cx="304.56" cy="75.38" r="1.45" fill="#9dbbe9" stroke="#3b72c6" stroke-width="0.85"/>
<circle cx="307.39" cy="73.59" r="1.45" fill="#9dbbe9" stroke="#3b72c6" stroke-width="0.85"/>
<circle cx="310.23" cy="71.29" r="1.45" fill="#9dbbe9" stroke="#3b72c6" stroke-width="0.85"/>
<circle cx="313.06" cy="65.90" r="1.45" fill="#9dbbe9" stroke="#3b72c6" stroke-width="0.85"/>
<circle cx="315.90" cy="56.47" r="1.45" fill="#9dbbe9" stroke="#3b72c6" stroke-width="0.85"/>
<circle cx="318.74" cy="44.67" r="1.45" fill="#9dbbe9" stroke="#3b72c6" stroke-width="0.85"/>
<circle cx="321.57" cy="37.85" r="1.45" fill="#9dbbe9" stroke="#3b72c6" stroke-width="0.85"/>
<circle cx="324.40" cy="35.86" r="1.45" fill="#9dbbe9" stroke="#3b72c6" stroke-width="0.85"/>
<circle cx="327.24" cy="36.34" r="1.45" fill="#9dbbe9" stroke="#3b72c6" stroke-width="0.85"/>
<circle cx="330.07" cy="36.69" r="1.45" fill="#9dbbe9" stroke="#3b72c6" stroke-width="0.85"/>
<circle cx="332.91" cy="36.44" r="1.45" fill="#9dbbe9" stroke="#3b72c6" stroke-width="0.85"/>
<circle cx="335.75" cy="35.98" r="1.45" fill="#9dbbe9" stroke="#3b72c6" stroke-width="0.85"/>
<circle cx="338.58" cy="35.43" r="1.45" fill="#9dbbe9" stroke="#3b72c6" stroke-width="0.85"/>
<circle cx="341.42" cy="34.64" r="1.45" fill="#9dbbe9" stroke="#3b72c6" stroke-width="0.85"/>
<circle cx="344.25" cy="33.95" r="1.45" fill="#9dbbe9" stroke="#3b72c6" stroke-width="0.85"/>
<circle cx="347.08" cy="33.75" r="1.45" fill="#9dbbe9" stroke="#3b72c6" stroke-width="0.85"/>
<circle cx="349.92" cy="34.29" r="1.45" fill="#9dbbe9" stroke="#3b72c6" stroke-width="0.85"/>
<circle cx="352.75" cy="35.29" r="1.45" fill="#9dbbe9" stroke="#3b72c6" stroke-width="0.85"/>
<circle cx="355.59" cy="36.32" r="1.45" fill="#9dbbe9" stroke="#3b72c6" stroke-width="0.85"/>
<circle cx="358.43" cy="37.30" r="1.45" fill="#9dbbe9" stroke="#3b72c6" stroke-width="0.85"/>
<circle cx="361.26" cy="38.41" r="1.45" fill="#9dbbe9" stroke="#3b72c6" stroke-width="0.85"/>
<circle cx="364.10" cy="39.43" r="1.45" fill="#9dbbe9" stroke="#3b72c6" stroke-width="0.85"/>
<circle cx="366.93" cy="40.14" r="1.45" fill="#9dbbe9" stroke="#3b72c6" stroke-width="0.85"/>
<circle cx="369.76" cy="40.43" r="1.45" fill="#9dbbe9" stroke="#3b72c6" stroke-width="0.85"/>
<circle cx="372.60" cy="40.59" r="1.45" fill="#9dbbe9" stroke="#3b72c6" stroke-width="0.85"/>
<circle cx="375.44" cy="40.81" r="1.45" fill="#9dbbe9" stroke="#3b72c6" stroke-width="0.85"/>
<circle cx="378.27" cy="41.52" r="1.45" fill="#9dbbe9" stroke="#3b72c6" stroke-width="0.85"/>
<circle cx="381.11" cy="43.15" r="1.45" fill="#9dbbe9" stroke="#3b72c6" stroke-width="0.85"/>
<circle cx="383.94" cy="45.67" r="1.45" fill="#9dbbe9" stroke="#3b72c6" stroke-width="0.85"/>
<circle cx="386.78" cy="49.63" r="1.45" fill="#9dbbe9" stroke="#3b72c6" stroke-width="0.85"/>
<circle cx="389.61" cy="54.48" r="1.45" fill="#9dbbe9" stroke="#3b72c6" stroke-width="0.85"/>
<circle cx="392.45" cy="60.50" r="1.45" fill="#9dbbe9" stroke="#3b72c6" stroke-width="0.85"/>
<circle cx="395.28" cy="66.78" r="1.45" fill="#9dbbe9" stroke="#3b72c6" stroke-width="0.85"/>
<circle cx="398.12" cy="73.65" r="1.45" fill="#9dbbe9" stroke="#3b72c6" stroke-width="0.85"/>
<circle cx="400.95" cy="82.12" r="1.45" fill="#9dbbe9" stroke="#3b72c6" stroke-width="0.85"/>
<circle cx="403.79" cy="92.55" r="1.45" fill="#9dbbe9" stroke="#3b72c6" stroke-width="0.85"/>
<circle cx="406.62" cy="104.97" r="1.45" fill="#9dbbe9" stroke="#3b72c6" stroke-width="0.85"/>
<circle cx="409.46" cy="116.30" r="1.45" fill="#9dbbe9" stroke="#3b72c6" stroke-width="0.85"/>
<circle cx="412.29" cy="126.71" r="1.45" fill="#9dbbe9" stroke="#3b72c6" stroke-width="0.85"/>
<circle cx="415.12" cy="137.83" r="1.45" fill="#9dbbe9" stroke="#3b72c6" stroke-width="0.85"/>
<circle cx="417.96" cy="147.17" r="1.45" fill="#9dbbe9" stroke="#3b72c6" stroke-width="0.85"/>
<circle cx="420.80" cy="154.23" r="1.45" fill="#9dbbe9" stroke="#3b72c6" stroke-width="0.85"/>
<circle cx="423.63" cy="158.52" r="1.45" fill="#9dbbe9" stroke="#3b72c6" stroke-width="0.85"/>
<circle cx="426.47" cy="161.21" r="1.45" fill="#9dbbe9" stroke="#3b72c6" stroke-width="0.85"/>
<circle cx="429.30" cy="162.84" r="1.45" fill="#9dbbe9" stroke="#3b72c6" stroke-width="0.85"/>
<polyline points="259.20,163.40 262.03,163.41 264.87,163.38 267.70,163.30 270.54,163.19 273.38,163.07 276.21,162.89 279.05,162.63 281.88,162.29 284.71,161.85 287.55,161.34 290.38,160.55 293.22,159.42 296.06,158.07 298.89,156.58 301.73,155.05 304.56,153.49 307.39,151.78 310.23,149.91 313.06,147.89 315.90,145.71 318.74,143.29 321.57,140.63 324.40,137.75 327.24,134.68 330.07,131.46 332.91,127.91 335.75,124.10 338.58,120.14 341.42,116.18 344.25,112.26 347.08,108.26 349.92,104.22 352.75,100.19 355.59,96.23 358.43,92.35 361.26,88.51 364.10,84.71 366.93,80.94 369.76,77.19 372.60,73.35 375.44,69.45 378.27,65.68 381.11,62.22 383.94,59.20 386.78,56.41 389.61,53.82 392.45,51.46 395.28,49.37 398.12,47.55 400.95,45.88 403.79,44.36 406.62,43.03 409.46,41.91 412.29,40.98 415.12,40.15 417.96,39.44 420.80,38.89 423.63,38.45 426.47,38.08 429.30,37.82" fill="none" stroke="#8ccbea" stroke-width="0.9" />
<circle cx="259.20" cy="163.40" r="1.45" fill="#cfeaf8" stroke="#8ccbea" stroke-width="0.85"/>
<circle cx="262.03" cy="163.41" r="1.45" fill="#cfeaf8" stroke="#8ccbea" stroke-width="0.85"/>
<circle cx="264.87" cy="163.38" r="1.45" fill="#cfeaf8" stroke="#8ccbea" stroke-width="0.85"/>
<circle cx="267.70" cy="163.30" r="1.45" fill="#cfeaf8" stroke="#8ccbea" stroke-width="0.85"/>
<circle cx="270.54" cy="163.19" r="1.45" fill="#cfeaf8" stroke="#8ccbea" stroke-width="0.85"/>
<circle cx="273.38" cy="163.07" r="1.45" fill="#cfeaf8" stroke="#8ccbea" stroke-width="0.85"/>
<circle cx="276.21" cy="162.89" r="1.45" fill="#cfeaf8" stroke="#8ccbea" stroke-width="0.85"/>
<circle cx="279.05" cy="162.63" r="1.45" fill="#cfeaf8" stroke="#8ccbea" stroke-width="0.85"/>
<circle cx="281.88" cy="162.29" r="1.45" fill="#cfeaf8" stroke="#8ccbea" stroke-width="0.85"/>
<circle cx="284.71" cy="161.85" r="1.45" fill="#cfeaf8" stroke="#8ccbea" stroke-width="0.85"/>
<circle cx="287.55" cy="161.34" r="1.45" fill="#cfeaf8" stroke="#8ccbea" stroke-width="0.85"/>
<circle cx="290.38" cy="160.55" r="1.45" fill="#cfeaf8" stroke="#8ccbea" stroke-width="0.85"/>
<circle cx="293.22" cy="159.42" r="1.45" fill="#cfeaf8" stroke="#8ccbea" stroke-width="0.85"/>
<circle cx="296.06" cy="158.07" r="1.45" fill="#cfeaf8" stroke="#8ccbea" stroke-width="0.85"/>
<circle cx="298.89" cy="156.58" r="1.45" fill="#cfeaf8" stroke="#8ccbea" stroke-width="0.85"/>
<circle cx="301.73" cy="155.05" r="1.45" fill="#cfeaf8" stroke="#8ccbea" stroke-width="0.85"/>
<circle cx="304.56" cy="153.49" r="1.45" fill="#cfeaf8" stroke="#8ccbea" stroke-width="0.85"/>
<circle cx="307.39" cy="151.78" r="1.45" fill="#cfeaf8" stroke="#8ccbea" stroke-width="0.85"/>
<circle cx="310.23" cy="149.91" r="1.45" fill="#cfeaf8" stroke="#8ccbea" stroke-width="0.85"/>
<circle cx="313.06" cy="147.89" r="1.45" fill="#cfeaf8" stroke="#8ccbea" stroke-width="0.85"/>
<circle cx="315.90" cy="145.71" r="1.45" fill="#cfeaf8" stroke="#8ccbea" stroke-width="0.85"/>
<circle cx="318.74" cy="143.29" r="1.45" fill="#cfeaf8" stroke="#8ccbea" stroke-width="0.85"/>
<circle cx="321.57" cy="140.63" r="1.45" fill="#cfeaf8" stroke="#8ccbea" stroke-width="0.85"/>
<circle cx="324.40" cy="137.75" r="1.45" fill="#cfeaf8" stroke="#8ccbea" stroke-width="0.85"/>
<circle cx="327.24" cy="134.68" r="1.45" fill="#cfeaf8" stroke="#8ccbea" stroke-width="0.85"/>
<circle cx="330.07" cy="131.46" r="1.45" fill="#cfeaf8" stroke="#8ccbea" stroke-width="0.85"/>
<circle cx="332.91" cy="127.91" r="1.45" fill="#cfeaf8" stroke="#8ccbea" stroke-width="0.85"/>
<circle cx="335.75" cy="124.10" r="1.45" fill="#cfeaf8" stroke="#8ccbea" stroke-width="0.85"/>
<circle cx="338.58" cy="120.14" r="1.45" fill="#cfeaf8" stroke="#8ccbea" stroke-width="0.85"/>
<circle cx="341.42" cy="116.18" r="1.45" fill="#cfeaf8" stroke="#8ccbea" stroke-width="0.85"/>
<circle cx="344.25" cy="112.26" r="1.45" fill="#cfeaf8" stroke="#8ccbea" stroke-width="0.85"/>
<circle cx="347.08" cy="108.26" r="1.45" fill="#cfeaf8" stroke="#8ccbea" stroke-width="0.85"/>
<circle cx="349.92" cy="104.22" r="1.45" fill="#cfeaf8" stroke="#8ccbea" stroke-width="0.85"/>
<circle cx="352.75" cy="100.19" r="1.45" fill="#cfeaf8" stroke="#8ccbea" stroke-width="0.85"/>
<circle cx="355.59" cy="96.23" r="1.45" fill="#cfeaf8" stroke="#8ccbea" stroke-width="0.85"/>
<circle cx="358.43" cy="92.35" r="1.45" fill="#cfeaf8" stroke="#8ccbea" stroke-width="0.85"/>
<circle cx="361.26" cy="88.51" r="1.45" fill="#cfeaf8" stroke="#8ccbea" stroke-width="0.85"/>
<circle cx="364.10" cy="84.71" r="1.45" fill="#cfeaf8" stroke="#8ccbea" stroke-width="0.85"/>
<circle cx="366.93" cy="80.94" r="1.45" fill="#cfeaf8" stroke="#8ccbea" stroke-width="0.85"/>
<circle cx="369.76" cy="77.19" r="1.45" fill="#cfeaf8" stroke="#8ccbea" stroke-width="0.85"/>
<circle cx="372.60" cy="73.35" r="1.45" fill="#cfeaf8" stroke="#8ccbea" stroke-width="0.85"/>
<circle cx="375.44" cy="69.45" r="1.45" fill="#cfeaf8" stroke="#8ccbea" stroke-width="0.85"/>
<circle cx="378.27" cy="65.68" r="1.45" fill="#cfeaf8" stroke="#8ccbea" stroke-width="0.85"/>
<circle cx="381.11" cy="62.22" r="1.45" fill="#cfeaf8" stroke="#8ccbea" stroke-width="0.85"/>
<circle cx="383.94" cy="59.20" r="1.45" fill="#cfeaf8" stroke="#8ccbea" stroke-width="0.85"/>
<circle cx="386.78" cy="56.41" r="1.45" fill="#cfeaf8" stroke="#8ccbea" stroke-width="0.85"/>
<circle cx="389.61" cy="53.82" r="1.45" fill="#cfeaf8" stroke="#8ccbea" stroke-width="0.85"/>
<circle cx="392.45" cy="51.46" r="1.45" fill="#cfeaf8" stroke="#8ccbea" stroke-width="0.85"/>
<circle cx="395.28" cy="49.37" r="1.45" fill="#cfeaf8" stroke="#8ccbea" stroke-width="0.85"/>
<circle cx="398.12" cy="47.55" r="1.45" fill="#cfeaf8" stroke="#8ccbea" stroke-width="0.85"/>
<circle cx="400.95" cy="45.88" r="1.45" fill="#cfeaf8" stroke="#8ccbea" stroke-width="0.85"/>
<circle cx="403.79" cy="44.36" r="1.45" fill="#cfeaf8" stroke="#8ccbea" stroke-width="0.85"/>
<circle cx="406.62" cy="43.03" r="1.45" fill="#cfeaf8" stroke="#8ccbea" stroke-width="0.85"/>
<circle cx="409.46" cy="41.91" r="1.45" fill="#cfeaf8" stroke="#8ccbea" stroke-width="0.85"/>
<circle cx="412.29" cy="40.98" r="1.45" fill="#cfeaf8" stroke="#8ccbea" stroke-width="0.85"/>
<circle cx="415.12" cy="40.15" r="1.45" fill="#cfeaf8" stroke="#8ccbea" stroke-width="0.85"/>
<circle cx="417.96" cy="39.44" r="1.45" fill="#cfeaf8" stroke="#8ccbea" stroke-width="0.85"/>
<circle cx="420.80" cy="38.89" r="1.45" fill="#cfeaf8" stroke="#8ccbea" stroke-width="0.85"/>
<circle cx="423.63" cy="38.45" r="1.45" fill="#cfeaf8" stroke="#8ccbea" stroke-width="0.85"/>
<circle cx="426.47" cy="38.08" r="1.45" fill="#cfeaf8" stroke="#8ccbea" stroke-width="0.85"/>
<circle cx="429.30" cy="37.82" r="1.45" fill="#cfeaf8" stroke="#8ccbea" stroke-width="0.85"/>
<polyline points="259.20,163.40 262.03,163.37 264.87,163.29 267.70,163.16 270.54,163.01 273.38,162.84 276.21,162.61 279.05,162.30 281.88,161.91 284.71,161.42 287.55,160.85 290.38,160.01 293.22,158.82 296.06,157.40 298.89,155.84 301.73,154.24 304.56,152.61 307.39,150.83 310.23,148.89 313.06,146.80 315.90,144.54 318.74,142.05 321.57,139.30 324.40,136.34 327.24,133.19 330.07,129.87 332.91,126.23 335.75,122.32 338.58,118.27 341.42,114.21 344.25,110.19 347.08,106.11 349.92,101.98 352.75,97.86 355.59,93.81 358.43,89.85 361.26,85.94 364.10,82.06 366.93,78.22 369.76,74.41 372.60,70.50 375.44,66.53 378.27,62.70 381.11,59.18 383.94,56.12 386.78,53.29 389.61,50.67 392.45,48.29 395.28,46.19 398.12,44.37 400.95,42.70 403.79,41.18 406.62,39.86 409.46,38.76 412.29,37.85 415.12,37.04 417.96,36.37 420.80,35.85 423.63,35.44 426.47,35.10 429.30,34.89" fill="none" stroke="#3b72c6" stroke-width="0.9" />
<circle cx="259.20" cy="163.40" r="1.45" fill="#9dbbe9" stroke="#3b72c6" stroke-width="0.85"/>
<circle cx="262.03" cy="163.37" r="1.45" fill="#9dbbe9" stroke="#3b72c6" stroke-width="0.85"/>
<circle cx="264.87" cy="163.29" r="1.45" fill="#9dbbe9" stroke="#3b72c6" stroke-width="0.85"/>
<circle cx="267.70" cy="163.16" r="1.45" fill="#9dbbe9" stroke="#3b72c6" stroke-width="0.85"/>
<circle cx="270.54" cy="163.01" r="1.45" fill="#9dbbe9" stroke="#3b72c6" stroke-width="0.85"/>
<circle cx="273.38" cy="162.84" r="1.45" fill="#9dbbe9" stroke="#3b72c6" stroke-width="0.85"/>
<circle cx="276.21" cy="162.61" r="1.45" fill="#9dbbe9" stroke="#3b72c6" stroke-width="0.85"/>
<circle cx="279.05" cy="162.30" r="1.45" fill="#9dbbe9" stroke="#3b72c6" stroke-width="0.85"/>
<circle cx="281.88" cy="161.91" r="1.45" fill="#9dbbe9" stroke="#3b72c6" stroke-width="0.85"/>
<circle cx="284.71" cy="161.42" r="1.45" fill="#9dbbe9" stroke="#3b72c6" stroke-width="0.85"/>
<circle cx="287.55" cy="160.85" r="1.45" fill="#9dbbe9" stroke="#3b72c6" stroke-width="0.85"/>
<circle cx="290.38" cy="160.01" r="1.45" fill="#9dbbe9" stroke="#3b72c6" stroke-width="0.85"/>
<circle cx="293.22" cy="158.82" r="1.45" fill="#9dbbe9" stroke="#3b72c6" stroke-width="0.85"/>
<circle cx="296.06" cy="157.40" r="1.45" fill="#9dbbe9" stroke="#3b72c6" stroke-width="0.85"/>
<circle cx="298.89" cy="155.84" r="1.45" fill="#9dbbe9" stroke="#3b72c6" stroke-width="0.85"/>
<circle cx="301.73" cy="154.24" r="1.45" fill="#9dbbe9" stroke="#3b72c6" stroke-width="0.85"/>
<circle cx="304.56" cy="152.61" r="1.45" fill="#9dbbe9" stroke="#3b72c6" stroke-width="0.85"/>
<circle cx="307.39" cy="150.83" r="1.45" fill="#9dbbe9" stroke="#3b72c6" stroke-width="0.85"/>
<circle cx="310.23" cy="148.89" r="1.45" fill="#9dbbe9" stroke="#3b72c6" stroke-width="0.85"/>
<circle cx="313.06" cy="146.80" r="1.45" fill="#9dbbe9" stroke="#3b72c6" stroke-width="0.85"/>
<circle cx="315.90" cy="144.54" r="1.45" fill="#9dbbe9" stroke="#3b72c6" stroke-width="0.85"/>
<circle cx="318.74" cy="142.05" r="1.45" fill="#9dbbe9" stroke="#3b72c6" stroke-width="0.85"/>
<circle cx="321.57" cy="139.30" r="1.45" fill="#9dbbe9" stroke="#3b72c6" stroke-width="0.85"/>
<circle cx="324.40" cy="136.34" r="1.45" fill="#9dbbe9" stroke="#3b72c6" stroke-width="0.85"/>
<circle cx="327.24" cy="133.19" r="1.45" fill="#9dbbe9" stroke="#3b72c6" stroke-width="0.85"/>
<circle cx="330.07" cy="129.87" r="1.45" fill="#9dbbe9" stroke="#3b72c6" stroke-width="0.85"/>
<circle cx="332.91" cy="126.23" r="1.45" fill="#9dbbe9" stroke="#3b72c6" stroke-width="0.85"/>
<circle cx="335.75" cy="122.32" r="1.45" fill="#9dbbe9" stroke="#3b72c6" stroke-width="0.85"/>
<circle cx="338.58" cy="118.27" r="1.45" fill="#9dbbe9" stroke="#3b72c6" stroke-width="0.85"/>
<circle cx="341.42" cy="114.21" r="1.45" fill="#9dbbe9" stroke="#3b72c6" stroke-width="0.85"/>
<circle cx="344.25" cy="110.19" r="1.45" fill="#9dbbe9" stroke="#3b72c6" stroke-width="0.85"/>
<circle cx="347.08" cy="106.11" r="1.45" fill="#9dbbe9" stroke="#3b72c6" stroke-width="0.85"/>
<circle cx="349.92" cy="101.98" r="1.45" fill="#9dbbe9" stroke="#3b72c6" stroke-width="0.85"/>
<circle cx="352.75" cy="97.86" r="1.45" fill="#9dbbe9" stroke="#3b72c6" stroke-width="0.85"/>
<circle cx="355.59" cy="93.81" r="1.45" fill="#9dbbe9" stroke="#3b72c6" stroke-width="0.85"/>
<circle cx="358.43" cy="89.85" r="1.45" fill="#9dbbe9" stroke="#3b72c6" stroke-width="0.85"/>
<circle cx="361.26" cy="85.94" r="1.45" fill="#9dbbe9" stroke="#3b72c6" stroke-width="0.85"/>
<circle cx="364.10" cy="82.06" r="1.45" fill="#9dbbe9" stroke="#3b72c6" stroke-width="0.85"/>
<circle cx="366.93" cy="78.22" r="1.45" fill="#9dbbe9" stroke="#3b72c6" stroke-width="0.85"/>
<circle cx="369.76" cy="74.41" r="1.45" fill="#9dbbe9" stroke="#3b72c6" stroke-width="0.85"/>
<circle cx="372.60" cy="70.50" r="1.45" fill="#9dbbe9" stroke="#3b72c6" stroke-width="0.85"/>
<circle cx="375.44" cy="66.53" r="1.45" fill="#9dbbe9" stroke="#3b72c6" stroke-width="0.85"/>
<circle cx="378.27" cy="62.70" r="1.45" fill="#9dbbe9" stroke="#3b72c6" stroke-width="0.85"/>
<circle cx="381.11" cy="59.18" r="1.45" fill="#9dbbe9" stroke="#3b72c6" stroke-width="0.85"/>
<circle cx="383.94" cy="56.12" r="1.45" fill="#9dbbe9" stroke="#3b72c6" stroke-width="0.85"/>
<circle cx="386.78" cy="53.29" r="1.45" fill="#9dbbe9" stroke="#3b72c6" stroke-width="0.85"/>
<circle cx="389.61" cy="50.67" r="1.45" fill="#9dbbe9" stroke="#3b72c6" stroke-width="0.85"/>
<circle cx="392.45" cy="48.29" r="1.45" fill="#9dbbe9" stroke="#3b72c6" stroke-width="0.85"/>
<circle cx="395.28" cy="46.19" r="1.45" fill="#9dbbe9" stroke="#3b72c6" stroke-width="0.85"/>
<circle cx="398.12" cy="44.37" r="1.45" fill="#9dbbe9" stroke="#3b72c6" stroke-width="0.85"/>
<circle cx="400.95" cy="42.70" r="1.45" fill="#9dbbe9" stroke="#3b72c6" stroke-width="0.85"/>
<circle cx="403.79" cy="41.18" r="1.45" fill="#9dbbe9" stroke="#3b72c6" stroke-width="0.85"/>
<circle cx="406.62" cy="39.86" r="1.45" fill="#9dbbe9" stroke="#3b72c6" stroke-width="0.85"/>
<circle cx="409.46" cy="38.76" r="1.45" fill="#9dbbe9" stroke="#3b72c6" stroke-width="0.85"/>
<circle cx="412.29" cy="37.85" r="1.45" fill="#9dbbe9" stroke="#3b72c6" stroke-width="0.85"/>
<circle cx="415.12" cy="37.04" r="1.45" fill="#9dbbe9" stroke="#3b72c6" stroke-width="0.85"/>
<circle cx="417.96" cy="36.37" r="1.45" fill="#9dbbe9" stroke="#3b72c6" stroke-width="0.85"/>
<circle cx="420.80" cy="35.85" r="1.45" fill="#9dbbe9" stroke="#3b72c6" stroke-width="0.85"/>
<circle cx="423.63" cy="35.44" r="1.45" fill="#9dbbe9" stroke="#3b72c6" stroke-width="0.85"/>
<circle cx="426.47" cy="35.10" r="1.45" fill="#9dbbe9" stroke="#3b72c6" stroke-width="0.85"/>
<circle cx="429.30" cy="34.89" r="1.45" fill="#9dbbe9" stroke="#3b72c6" stroke-width="0.85"/>
<rect x="259.20" y="22.30" width="170.10" height="141.10" fill="none" stroke="#2a2a2a" stroke-width="1"/>
<line x1="259.20" y1="163.40" x2="259.20" y2="160.40" stroke="#2a2a2a" stroke-width="1" />
<line x1="287.55" y1="163.40" x2="287.55" y2="160.40" stroke="#2a2a2a" stroke-width="1" />
<line x1="315.90" y1="163.40" x2="315.90" y2="160.40" stroke="#2a2a2a" stroke-width="1" />
<line x1="344.25" y1="163.40" x2="344.25" y2="160.40" stroke="#2a2a2a" stroke-width="1" />
<line x1="372.60" y1="163.40" x2="372.60" y2="160.40" stroke="#2a2a2a" stroke-width="1" />
<line x1="400.95" y1="163.40" x2="400.95" y2="160.40" stroke="#2a2a2a" stroke-width="1" />
<line x1="429.30" y1="163.40" x2="429.30" y2="160.40" stroke="#2a2a2a" stroke-width="1" />
<line x1="273.38" y1="163.40" x2="273.38" y2="161.60" stroke="#2a2a2a" stroke-width="1" />
<line x1="301.73" y1="163.40" x2="301.73" y2="161.60" stroke="#2a2a2a" stroke-width="1" />
<line x1="330.07" y1="163.40" x2="330.07" y2="161.60" stroke="#2a2a2a" stroke-width="1" />
<line x1="358.43" y1="163.40" x2="358.43" y2="161.60" stroke="#2a2a2a" stroke-width="1" />
<line x1="386.78" y1="163.40" x2="386.78" y2="161.60" stroke="#2a2a2a" stroke-width="1" />
<line x1="415.12" y1="163.40" x2="415.12" y2="161.60" stroke="#2a2a2a" stroke-width="1" />
<line x1="259.20" y1="163.40" x2="262.20" y2="163.40" stroke="#2a2a2a" stroke-width="1" />
<line x1="259.20" y1="135.18" x2="262.20" y2="135.18" stroke="#2a2a2a" stroke-width="1" />
<line x1="259.20" y1="106.96" x2="262.20" y2="106.96" stroke="#2a2a2a" stroke-width="1" />
<line x1="259.20" y1="78.74" x2="262.20" y2="78.74" stroke="#2a2a2a" stroke-width="1" />
<line x1="259.20" y1="50.52" x2="262.20" y2="50.52" stroke="#2a2a2a" stroke-width="1" />
<line x1="259.20" y1="22.30" x2="262.20" y2="22.30" stroke="#2a2a2a" stroke-width="1" />
<line x1="259.20" y1="149.29" x2="261.00" y2="149.29" stroke="#2a2a2a" stroke-width="1" />
<line x1="259.20" y1="121.07" x2="261.00" y2="121.07" stroke="#2a2a2a" stroke-width="1" />
<line x1="259.20" y1="92.85" x2="261.00" y2="92.85" stroke="#2a2a2a" stroke-width="1" />
<line x1="259.20" y1="64.63" x2="261.00" y2="64.63" stroke="#2a2a2a" stroke-width="1" />
<line x1="259.20" y1="36.41" x2="261.00" y2="36.41" stroke="#2a2a2a" stroke-width="1" />
<line x1="429.30" y1="163.40" x2="426.30" y2="163.40" stroke="#2a2a2a" stroke-width="1" />
<line x1="429.30" y1="140.82" x2="426.30" y2="140.82" stroke="#2a2a2a" stroke-width="1" />
<line x1="429.30" y1="118.25" x2="426.30" y2="118.25" stroke="#2a2a2a" stroke-width="1" />
<line x1="429.30" y1="95.67" x2="426.30" y2="95.67" stroke="#2a2a2a" stroke-width="1" />
<line x1="429.30" y1="73.10" x2="426.30" y2="73.10" stroke="#2a2a2a" stroke-width="1" />
<line x1="429.30" y1="50.52" x2="426.30" y2="50.52" stroke="#2a2a2a" stroke-width="1" />
<line x1="429.30" y1="27.94" x2="426.30" y2="27.94" stroke="#2a2a2a" stroke-width="1" />
<line x1="429.30" y1="152.11" x2="427.50" y2="152.11" stroke="#2a2a2a" stroke-width="1" />
<line x1="429.30" y1="129.54" x2="427.50" y2="129.54" stroke="#2a2a2a" stroke-width="1" />
<line x1="429.30" y1="106.96" x2="427.50" y2="106.96" stroke="#2a2a2a" stroke-width="1" />
<line x1="429.30" y1="84.38" x2="427.50" y2="84.38" stroke="#2a2a2a" stroke-width="1" />
<line x1="429.30" y1="61.81" x2="427.50" y2="61.81" stroke="#2a2a2a" stroke-width="1" />
<line x1="429.30" y1="39.23" x2="427.50" y2="39.23" stroke="#2a2a2a" stroke-width="1" />
<text x="259.20" y="175.40" font-size="10" font-weight="bold" text-anchor="middle" fill="#111" >300</text>
<text x="287.55" y="175.40" font-size="10" font-weight="bold" text-anchor="middle" fill="#111" >400</text>
<text x="315.90" y="175.40" font-size="10" font-weight="bold" text-anchor="middle" fill="#111" >500</text>
<text x="344.25" y="175.40" font-size="10" font-weight="bold" text-anchor="middle" fill="#111" >600</text>
<text x="372.60" y="175.40" font-size="10" font-weight="bold" text-anchor="middle" fill="#111" >700</text>
<text x="400.95" y="175.40" font-size="10" font-weight="bold" text-anchor="middle" fill="#111" >800</text>
<text x="429.30" y="175.40" font-size="10" font-weight="bold" text-anchor="middle" fill="#111" >900</text>
<text x="255.60" y="167.00" font-size="10" font-weight="bold" text-anchor="end" fill="#111" >0</text>
<text x="255.60" y="138.78" font-size="10" font-weight="bold" text-anchor="end" fill="#111" >20</text>
<text x="255.60" y="110.56" font-size="10" font-weight="bold" text-anchor="end" fill="#111" >40</text>
<text x="255.60" y="82.34" font-size="10" font-weight="bold" text-anchor="end" fill="#111" >60</text>
<text x="255.60" y="54.12" font-size="10" font-weight="bold" text-anchor="end" fill="#111" >80</text>
<text x="255.60" y="25.90" font-size="10" font-weight="bold" text-anchor="end" fill="#111" >100</text>
<text x="432.40" y="167.00" font-size="10" font-weight="bold" text-anchor="start" fill="#111" >0</text>
<text x="432.40" y="144.42" font-size="10" font-weight="bold" text-anchor="start" fill="#111" >4</text>
<text x="432.40" y="121.85" font-size="10" font-weight="bold" text-anchor="start" fill="#111" >8</text>
<text x="432.40" y="99.27" font-size="10" font-weight="bold" text-anchor="start" fill="#111" >12</text>
<text x="432.40" y="76.70" font-size="10" font-weight="bold" text-anchor="start" fill="#111" >16</text>
<text x="432.40" y="54.12" font-size="10" font-weight="bold" text-anchor="start" fill="#111" >20</text>
<text x="432.40" y="31.54" font-size="10" font-weight="bold" text-anchor="start" fill="#111" >24</text>
<text x="344.30" y="190.30" font-size="12.1" font-weight="bold" text-anchor="middle" fill="#111" >Wavelength (nm)</text>
<text transform="translate(237.60,93.10) rotate(-90)" font-size="11.9" font-weight="bold" text-anchor="middle" fill="#111">EQE (%)</text>
<text transform="translate(457.80,92.50) rotate(-90)" font-size="11.6" font-weight="bold" text-anchor="middle" fill="#111"><tspan font-style="italic">J</tspan><tspan dy="2.6" font-size="9.3">sc</tspan><tspan dy="-2.6">​</tspan> (mA cm<tspan dy="-3.8" font-size="7.8">-2</tspan><tspan dy="3.8">​</tspan>)</text>
<line x1="260.50" y1="27.80" x2="277.80" y2="27.80" stroke="#8ccbea" stroke-width="0.9" />
<circle cx="269.40" cy="27.80" r="1.5" fill="#cfeaf8" stroke="#8ccbea" stroke-width="0.7"/>
<line x1="260.50" y1="37.40" x2="277.80" y2="37.40" stroke="#3b72c6" stroke-width="0.9" />
<circle cx="269.40" cy="37.40" r="1.5" fill="#9dbbe9" stroke="#3b72c6" stroke-width="0.7"/>
<text x="280.20" y="30.60" font-size="7.3" font-weight="bold" text-anchor="start" fill="#111" >Control</text>
<text x="280.20" y="40.20" font-size="7.3" font-weight="bold" text-anchor="start" fill="#111" >With Ta<tspan dy="1.6" font-size="5.2">2</tspan><tspan dy="-1.6">​</tspan>O<tspan dy="1.6" font-size="5.2">5</tspan><tspan dy="-1.6">​</tspan></text>
<line x1="354.50" y1="29.00" x2="335.70" y2="29.00" stroke="#f01010" stroke-width="1.1" />
<polygon points="335.70,29.00 340.20,26.90 340.20,31.10" fill="#f01010"/>
<line x1="407.00" y1="31.30" x2="424.50" y2="31.30" stroke="#f01010" stroke-width="1.1" />
<polygon points="424.50,31.30 420.00,29.20 420.00,33.40" fill="#f01010"/>
<text x="301.50" y="99.00" font-size="8.0" font-weight="bold" text-anchor="start" fill="#4479c8" >22.77 mA/cm<tspan dy="-3" font-size="5.8">2</tspan><tspan dy="3">​</tspan></text>
<line x1="327.60" y1="102.50" x2="345.00" y2="102.50" stroke="#3f74c4" stroke-width="0.8" />
<polygon points="345.00,102.50 341.50,101.00 341.50,104.00" fill="#3f74c4"/>
<text x="344.50" y="121.90" font-size="8.0" font-weight="bold" text-anchor="start" fill="#8ccbea" >22.25 mA/cm<tspan dy="-3" font-size="5.8">2</tspan><tspan dy="3">​</tspan></text>
<line x1="354.00" y1="125.30" x2="337.00" y2="125.30" stroke="#8ccbea" stroke-width="0.8" />
<polygon points="337.00,125.30 340.50,123.80 340.50,126.80" fill="#8ccbea"/>
<text x="468.40" y="14.10" font-size="18.5" font-weight="bold" text-anchor="start" fill="#111" >c</text>
<polygon points="516.3,31.20 655.8,31.20 655.8,79.98 516.3,88.71" fill="#fde9d0"/>
<polygon points="516.3,88.71 655.8,79.98 655.8,111.75 516.3,128.79" fill="#e4e3f8"/>
<line x1="516.30" y1="31.20" x2="655.80" y2="31.20" stroke="#f04a4a" stroke-width="1.1" />
<line x1="516.30" y1="88.71" x2="655.80" y2="79.98" stroke="#4a80cc" stroke-width="0.9" />
<line x1="516.30" y1="128.79" x2="655.80" y2="111.75" stroke="#6ec1e4" stroke-width="0.9" />
<rect x="514.60" y="29.50" width="3.4" height="3.4" fill="#e8141e"/>
<rect x="654.10" y="29.50" width="3.4" height="3.4" fill="#e8141e"/>
<circle cx="516.30" cy="88.71" r="1.8" fill="#4a80cc" stroke="none" stroke-width="0.8"/>
<circle cx="655.80" cy="79.98" r="1.8" fill="#4a80cc" stroke="none" stroke-width="0.8"/>
<polygon points="516.30,126.59 514.21,130.22 518.39,130.22" fill="#6ec1e4"/>
<polygon points="655.80,109.55 653.71,113.18 657.89,113.18" fill="#6ec1e4"/>
<rect x="495.60" y="22.40" width="181.00" height="145.30" fill="none" stroke="#2a2a2a" stroke-width="1"/>
<line x1="495.60" y1="158.60" x2="498.60" y2="158.60" stroke="#2a2a2a" stroke-width="1" />
<line x1="495.60" y1="140.40" x2="498.60" y2="140.40" stroke="#2a2a2a" stroke-width="1" />
<line x1="495.60" y1="122.20" x2="498.60" y2="122.20" stroke="#2a2a2a" stroke-width="1" />
<line x1="495.60" y1="104.00" x2="498.60" y2="104.00" stroke="#2a2a2a" stroke-width="1" />
<line x1="495.60" y1="85.80" x2="498.60" y2="85.80" stroke="#2a2a2a" stroke-width="1" />
<line x1="495.60" y1="67.60" x2="498.60" y2="67.60" stroke="#2a2a2a" stroke-width="1" />
<line x1="495.60" y1="49.40" x2="498.60" y2="49.40" stroke="#2a2a2a" stroke-width="1" />
<line x1="495.60" y1="31.20" x2="498.60" y2="31.20" stroke="#2a2a2a" stroke-width="1" />
<line x1="495.60" y1="149.50" x2="497.40" y2="149.50" stroke="#2a2a2a" stroke-width="1" />
<line x1="495.60" y1="131.30" x2="497.40" y2="131.30" stroke="#2a2a2a" stroke-width="1" />
<line x1="495.60" y1="113.10" x2="497.40" y2="113.10" stroke="#2a2a2a" stroke-width="1" />
<line x1="495.60" y1="94.90" x2="497.40" y2="94.90" stroke="#2a2a2a" stroke-width="1" />
<line x1="495.60" y1="76.70" x2="497.40" y2="76.70" stroke="#2a2a2a" stroke-width="1" />
<line x1="495.60" y1="58.50" x2="497.40" y2="58.50" stroke="#2a2a2a" stroke-width="1" />
<line x1="495.60" y1="40.30" x2="497.40" y2="40.30" stroke="#2a2a2a" stroke-width="1" />
<line x1="516.30" y1="167.70" x2="516.30" y2="164.70" stroke="#2a2a2a" stroke-width="1" />
<line x1="655.80" y1="167.70" x2="655.80" y2="164.70" stroke="#2a2a2a" stroke-width="1" />
<text x="492.40" y="161.95" font-size="9.3" font-weight="bold" text-anchor="end" fill="#111" >55</text>
<text x="492.40" y="143.75" font-size="9.3" font-weight="bold" text-anchor="end" fill="#111" >60</text>
<text x="492.40" y="125.55" font-size="9.3" font-weight="bold" text-anchor="end" fill="#111" >65</text>
<text x="492.40" y="107.35" font-size="9.3" font-weight="bold" text-anchor="end" fill="#111" >70</text>
<text x="492.40" y="89.15" font-size="9.3" font-weight="bold" text-anchor="end" fill="#111" >75</text>
<text x="492.40" y="70.95" font-size="9.3" font-weight="bold" text-anchor="end" fill="#111" >80</text>
<text x="492.40" y="52.75" font-size="9.3" font-weight="bold" text-anchor="end" fill="#111" >85</text>
<text x="492.40" y="34.55" font-size="9.3" font-weight="bold" text-anchor="end" fill="#111" >90</text>
<text x="516.50" y="178.80" font-size="9.3" font-weight="bold" text-anchor="middle" fill="#111" >Control</text>
<text x="655.50" y="178.80" font-size="9.3" font-weight="bold" text-anchor="middle" fill="#111" >With Ta<tspan dy="2" font-size="6.5">2</tspan><tspan dy="-2">​</tspan>O<tspan dy="2" font-size="6.5">5</tspan><tspan dy="-2">​</tspan></text>
<text transform="translate(478.20,94.20) rotate(-90)" font-size="11.7" font-weight="bold" text-anchor="middle" fill="#111">Fill Factor (%)</text>
<text x="524.60" y="55.30" font-size="9.65" font-weight="bold" text-anchor="start" fill="#111" >Nonradiative recombination</text>
<text x="524.60" y="66.60" font-size="9.65" font-weight="bold" text-anchor="start" fill="#111" >loss</text>
<text x="590.30" y="103.50" font-size="9.8" font-weight="bold" text-anchor="middle" fill="#111" >Transport loss</text>
<line x1="583.00" y1="128.50" x2="604.50" y2="128.50" stroke="#f04a4a" stroke-width="0.9" />
<rect x="592.15" y="126.9" width="3.2" height="3.2" fill="#e8141e"/>
<line x1="583.00" y1="142.50" x2="604.50" y2="142.50" stroke="#4a80cc" stroke-width="0.9" />
<circle cx="593.75" cy="142.50" r="1.7" fill="#4a80cc" stroke="none" stroke-width="0.8"/>
<line x1="583.00" y1="156.50" x2="604.50" y2="156.50" stroke="#6ec1e4" stroke-width="0.9" />
<polygon points="593.75,154.40 591.75,157.87 595.75,157.87" fill="#6ec1e4"/>
<text x="607.80" y="131.70" font-size="9.3" font-weight="bold" text-anchor="start" fill="#111" >FF<tspan dy="2.6" font-size="6.5">SQ-limit</tspan><tspan dy="-2.6">​</tspan></text>
<text x="607.80" y="145.70" font-size="9.3" font-weight="bold" text-anchor="start" fill="#111" >FF<tspan dy="2.6" font-size="6.5">max</tspan><tspan dy="-2.6">​</tspan></text>
<text x="607.80" y="159.70" font-size="9.3" font-weight="bold" text-anchor="start" fill="#111" >FF<tspan dy="2.6" font-size="6.5">measured</tspan><tspan dy="-2.6">​</tspan></text>
<text x="6.30" y="197.20" font-size="18.5" font-weight="bold" text-anchor="start" fill="#111" >d</text>
<line x1="157.30" y1="271.54" x2="192.94" y2="339.60" stroke="#f6b3b3" stroke-width="0.8" />
<line x1="161.61" y1="258.98" x2="205.86" y2="339.60" stroke="#e23a3a" stroke-width="0.8" />
<polyline points="37.70,244.54 42.48,244.55 47.27,244.59 52.05,244.66 56.84,244.75 61.62,244.86 66.40,244.99 71.19,245.13 75.97,245.29 80.76,245.46 85.54,245.64 90.32,245.86 95.11,246.17 99.89,246.55 104.68,246.99 109.46,247.47 114.24,247.99 119.03,248.61 123.81,249.37 128.60,250.31 133.38,251.51 138.16,253.20 142.95,256.25 147.73,260.62 152.52,265.97 157.30,271.54 162.08,280.74 166.87,290.52 171.65,299.30" fill="none" stroke="#8ccbea" stroke-width="0.9" />
<circle cx="37.70" cy="244.54" r="1.8" fill="#8ccbea"/>
<circle cx="37.35" cy="244.19" r="0.81" fill="#cfeaf8"/>
<circle cx="42.48" cy="244.55" r="1.8" fill="#8ccbea"/>
<circle cx="42.13" cy="244.20" r="0.81" fill="#cfeaf8"/>
<circle cx="47.27" cy="244.59" r="1.8" fill="#8ccbea"/>
<circle cx="46.92" cy="244.24" r="0.81" fill="#cfeaf8"/>
<circle cx="52.05" cy="244.66" r="1.8" fill="#8ccbea"/>
<circle cx="51.70" cy="244.31" r="0.81" fill="#cfeaf8"/>
<circle cx="56.84" cy="244.75" r="1.8" fill="#8ccbea"/>
<circle cx="56.49" cy="244.40" r="0.81" fill="#cfeaf8"/>
<circle cx="61.62" cy="244.86" r="1.8" fill="#8ccbea"/>
<circle cx="61.27" cy="244.51" r="0.81" fill="#cfeaf8"/>
<circle cx="66.40" cy="244.99" r="1.8" fill="#8ccbea"/>
<circle cx="66.05" cy="244.64" r="0.81" fill="#cfeaf8"/>
<circle cx="71.19" cy="245.13" r="1.8" fill="#8ccbea"/>
<circle cx="70.84" cy="244.78" r="0.81" fill="#cfeaf8"/>
<circle cx="75.97" cy="245.29" r="1.8" fill="#8ccbea"/>
<circle cx="75.62" cy="244.94" r="0.81" fill="#cfeaf8"/>
<circle cx="80.76" cy="245.46" r="1.8" fill="#8ccbea"/>
<circle cx="80.41" cy="245.11" r="0.81" fill="#cfeaf8"/>
<circle cx="85.54" cy="245.64" r="1.8" fill="#8ccbea"/>
<circle cx="85.19" cy="245.29" r="0.81" fill="#cfeaf8"/>
<circle cx="90.32" cy="245.86" r="1.8" fill="#8ccbea"/>
<circle cx="89.97" cy="245.51" r="0.81" fill="#cfeaf8"/>
<circle cx="95.11" cy="246.17" r="1.8" fill="#8ccbea"/>
<circle cx="94.76" cy="245.82" r="0.81" fill="#cfeaf8"/>
<circle cx="99.89" cy="246.55" r="1.8" fill="#8ccbea"/>
<circle cx="99.54" cy="246.20" r="0.81" fill="#cfeaf8"/>
<circle cx="104.68" cy="246.99" r="1.8" fill="#8ccbea"/>
<circle cx="104.33" cy="246.64" r="0.81" fill="#cfeaf8"/>
<circle cx="109.46" cy="247.47" r="1.8" fill="#8ccbea"/>
<circle cx="109.11" cy="247.12" r="0.81" fill="#cfeaf8"/>
<circle cx="114.24" cy="247.99" r="1.8" fill="#8ccbea"/>
<circle cx="113.89" cy="247.64" r="0.81" fill="#cfeaf8"/>
<circle cx="119.03" cy="248.61" r="1.8" fill="#8ccbea"/>
<circle cx="118.68" cy="248.26" r="0.81" fill="#cfeaf8"/>
<circle cx="123.81" cy="249.37" r="1.8" fill="#8ccbea"/>
<circle cx="123.46" cy="249.02" r="0.81" fill="#cfeaf8"/>
<circle cx="128.60" cy="250.31" r="1.8" fill="#8ccbea"/>
<circle cx="128.25" cy="249.96" r="0.81" fill="#cfeaf8"/>
<circle cx="133.38" cy="251.51" r="1.8" fill="#8ccbea"/>
<circle cx="133.03" cy="251.16" r="0.81" fill="#cfeaf8"/>
<circle cx="138.16" cy="253.20" r="1.8" fill="#8ccbea"/>
<circle cx="137.81" cy="252.85" r="0.81" fill="#cfeaf8"/>
<circle cx="142.95" cy="256.25" r="1.8" fill="#8ccbea"/>
<circle cx="142.60" cy="255.90" r="0.81" fill="#cfeaf8"/>
<circle cx="147.73" cy="260.62" r="1.8" fill="#8ccbea"/>
<circle cx="147.38" cy="260.27" r="0.81" fill="#cfeaf8"/>
<circle cx="152.52" cy="265.97" r="1.8" fill="#8ccbea"/>
<circle cx="152.17" cy="265.62" r="0.81" fill="#cfeaf8"/>
<circle cx="157.30" cy="271.54" r="1.8" fill="#8ccbea"/>
<circle cx="156.95" cy="271.19" r="0.81" fill="#cfeaf8"/>
<circle cx="162.08" cy="280.74" r="1.8" fill="#8ccbea"/>
<circle cx="161.73" cy="280.39" r="0.81" fill="#cfeaf8"/>
<circle cx="166.87" cy="290.52" r="1.8" fill="#8ccbea"/>
<circle cx="166.52" cy="290.17" r="0.81" fill="#cfeaf8"/>
<circle cx="171.65" cy="299.30" r="1.8" fill="#8ccbea"/>
<circle cx="171.30" cy="298.95" r="0.81" fill="#cfeaf8"/>
<polyline points="37.70,224.21 42.48,224.37 47.27,224.56 52.05,224.77 56.84,224.99 61.62,225.23 66.40,225.48 71.19,225.74 75.97,226.00 80.76,226.29 85.54,226.59 90.32,226.94 95.11,227.33 99.89,227.80 104.68,228.40 109.46,229.08 114.24,229.81 119.03,230.52 123.81,231.43 128.60,233.15 133.38,235.39 138.16,237.16 142.95,239.25 147.73,242.26 152.52,246.50 157.30,253.50 162.08,259.74 166.87,268.80 171.65,277.34 176.44,285.52 181.22,291.69" fill="none" stroke="#3b72c6" stroke-width="0.9" />
<circle cx="37.70" cy="224.21" r="1.8" fill="#3b72c6"/>
<circle cx="37.35" cy="223.86" r="0.81" fill="#9dbbe9"/>
<circle cx="42.48" cy="224.37" r="1.8" fill="#3b72c6"/>
<circle cx="42.13" cy="224.02" r="0.81" fill="#9dbbe9"/>
<circle cx="47.27" cy="224.56" r="1.8" fill="#3b72c6"/>
<circle cx="46.92" cy="224.21" r="0.81" fill="#9dbbe9"/>
<circle cx="52.05" cy="224.77" r="1.8" fill="#3b72c6"/>
<circle cx="51.70" cy="224.42" r="0.81" fill="#9dbbe9"/>
<circle cx="56.84" cy="224.99" r="1.8" fill="#3b72c6"/>
<circle cx="56.49" cy="224.64" r="0.81" fill="#9dbbe9"/>
<circle cx="61.62" cy="225.23" r="1.8" fill="#3b72c6"/>
<circle cx="61.27" cy="224.88" r="0.81" fill="#9dbbe9"/>
<circle cx="66.40" cy="225.48" r="1.8" fill="#3b72c6"/>
<circle cx="66.05" cy="225.13" r="0.81" fill="#9dbbe9"/>
<circle cx="71.19" cy="225.74" r="1.8" fill="#3b72c6"/>
<circle cx="70.84" cy="225.39" r="0.81" fill="#9dbbe9"/>
<circle cx="75.97" cy="226.00" r="1.8" fill="#3b72c6"/>
<circle cx="75.62" cy="225.65" r="0.81" fill="#9dbbe9"/>
<circle cx="80.76" cy="226.29" r="1.8" fill="#3b72c6"/>
<circle cx="80.41" cy="225.94" r="0.81" fill="#9dbbe9"/>
<circle cx="85.54" cy="226.59" r="1.8" fill="#3b72c6"/>
<circle cx="85.19" cy="226.24" r="0.81" fill="#9dbbe9"/>
<circle cx="90.32" cy="226.94" r="1.8" fill="#3b72c6"/>
<circle cx="89.97" cy="226.59" r="0.81" fill="#9dbbe9"/>
<circle cx="95.11" cy="227.33" r="1.8" fill="#3b72c6"/>
<circle cx="94.76" cy="226.98" r="0.81" fill="#9dbbe9"/>
<circle cx="99.89" cy="227.80" r="1.8" fill="#3b72c6"/>
<circle cx="99.54" cy="227.45" r="0.81" fill="#9dbbe9"/>
<circle cx="104.68" cy="228.40" r="1.8" fill="#3b72c6"/>
<circle cx="104.33" cy="228.05" r="0.81" fill="#9dbbe9"/>
<circle cx="109.46" cy="229.08" r="1.8" fill="#3b72c6"/>
<circle cx="109.11" cy="228.73" r="0.81" fill="#9dbbe9"/>
<circle cx="114.24" cy="229.81" r="1.8" fill="#3b72c6"/>
<circle cx="113.89" cy="229.46" r="0.81" fill="#9dbbe9"/>
<circle cx="119.03" cy="230.52" r="1.8" fill="#3b72c6"/>
<circle cx="118.68" cy="230.17" r="0.81" fill="#9dbbe9"/>
<circle cx="123.81" cy="231.43" r="1.8" fill="#3b72c6"/>
<circle cx="123.46" cy="231.08" r="0.81" fill="#9dbbe9"/>
<circle cx="128.60" cy="233.15" r="1.8" fill="#3b72c6"/>
<circle cx="128.25" cy="232.80" r="0.81" fill="#9dbbe9"/>
<circle cx="133.38" cy="235.39" r="1.8" fill="#3b72c6"/>
<circle cx="133.03" cy="235.04" r="0.81" fill="#9dbbe9"/>
<circle cx="138.16" cy="237.16" r="1.8" fill="#3b72c6"/>
<circle cx="137.81" cy="236.81" r="0.81" fill="#9dbbe9"/>
<circle cx="142.95" cy="239.25" r="1.8" fill="#3b72c6"/>
<circle cx="142.60" cy="238.90" r="0.81" fill="#9dbbe9"/>
<circle cx="147.73" cy="242.26" r="1.8" fill="#3b72c6"/>
<circle cx="147.38" cy="241.91" r="0.81" fill="#9dbbe9"/>
<circle cx="152.52" cy="246.50" r="1.8" fill="#3b72c6"/>
<circle cx="152.17" cy="246.15" r="0.81" fill="#9dbbe9"/>
<circle cx="157.30" cy="253.50" r="1.8" fill="#3b72c6"/>
<circle cx="156.95" cy="253.15" r="0.81" fill="#9dbbe9"/>
<circle cx="162.08" cy="259.74" r="1.8" fill="#3b72c6"/>
<circle cx="161.73" cy="259.39" r="0.81" fill="#9dbbe9"/>
<circle cx="166.87" cy="268.80" r="1.8" fill="#3b72c6"/>
<circle cx="166.52" cy="268.45" r="0.81" fill="#9dbbe9"/>
<circle cx="171.65" cy="277.34" r="1.8" fill="#3b72c6"/>
<circle cx="171.30" cy="276.99" r="0.81" fill="#9dbbe9"/>
<circle cx="176.44" cy="285.52" r="1.8" fill="#3b72c6"/>
<circle cx="176.09" cy="285.17" r="0.81" fill="#9dbbe9"/>
<circle cx="181.22" cy="291.69" r="1.8" fill="#3b72c6"/>
<circle cx="180.87" cy="291.34" r="0.81" fill="#9dbbe9"/>
<rect x="37.70" y="198.50" width="178.20" height="141.10" fill="none" stroke="#2a2a2a" stroke-width="1"/>
<line x1="37.70" y1="339.60" x2="37.70" y2="336.60" stroke="#2a2a2a" stroke-width="1" />
<line x1="61.62" y1="339.60" x2="61.62" y2="336.60" stroke="#2a2a2a" stroke-width="1" />
<line x1="85.54" y1="339.60" x2="85.54" y2="336.60" stroke="#2a2a2a" stroke-width="1" />
<line x1="109.46" y1="339.60" x2="109.46" y2="336.60" stroke="#2a2a2a" stroke-width="1" />
<line x1="133.38" y1="339.60" x2="133.38" y2="336.60" stroke="#2a2a2a" stroke-width="1" />
<line x1="157.30" y1="339.60" x2="157.30" y2="336.60" stroke="#2a2a2a" stroke-width="1" />
<line x1="181.22" y1="339.60" x2="181.22" y2="336.60" stroke="#2a2a2a" stroke-width="1" />
<line x1="205.14" y1="339.60" x2="205.14" y2="336.60" stroke="#2a2a2a" stroke-width="1" />
<line x1="49.66" y1="339.60" x2="49.66" y2="337.80" stroke="#2a2a2a" stroke-width="1" />
<line x1="73.58" y1="339.60" x2="73.58" y2="337.80" stroke="#2a2a2a" stroke-width="1" />
<line x1="97.50" y1="339.60" x2="97.50" y2="337.80" stroke="#2a2a2a" stroke-width="1" />
<line x1="121.42" y1="339.60" x2="121.42" y2="337.80" stroke="#2a2a2a" stroke-width="1" />
<line x1="145.34" y1="339.60" x2="145.34" y2="337.80" stroke="#2a2a2a" stroke-width="1" />
<line x1="169.26" y1="339.60" x2="169.26" y2="337.80" stroke="#2a2a2a" stroke-width="1" />
<line x1="193.18" y1="339.60" x2="193.18" y2="337.80" stroke="#2a2a2a" stroke-width="1" />
<line x1="37.70" y1="339.60" x2="40.70" y2="339.60" stroke="#2a2a2a" stroke-width="1" />
<line x1="37.70" y1="308.20" x2="40.70" y2="308.20" stroke="#2a2a2a" stroke-width="1" />
<line x1="37.70" y1="276.80" x2="40.70" y2="276.80" stroke="#2a2a2a" stroke-width="1" />
<line x1="37.70" y1="245.40" x2="40.70" y2="245.40" stroke="#2a2a2a" stroke-width="1" />
<line x1="37.70" y1="214.00" x2="40.70" y2="214.00" stroke="#2a2a2a" stroke-width="1" />
<line x1="37.70" y1="323.90" x2="39.50" y2="323.90" stroke="#2a2a2a" stroke-width="1" />
<line x1="37.70" y1="292.50" x2="39.50" y2="292.50" stroke="#2a2a2a" stroke-width="1" />
<line x1="37.70" y1="261.10" x2="39.50" y2="261.10" stroke="#2a2a2a" stroke-width="1" />
<line x1="37.70" y1="229.70" x2="39.50" y2="229.70" stroke="#2a2a2a" stroke-width="1" />
<text x="37.70" y="349.90" font-size="9.3" font-weight="bold" text-anchor="middle" fill="#111" >0.0</text>
<text x="61.62" y="349.90" font-size="9.3" font-weight="bold" text-anchor="middle" fill="#111" >0.1</text>
<text x="85.54" y="349.90" font-size="9.3" font-weight="bold" text-anchor="middle" fill="#111" >0.2</text>
<text x="109.46" y="349.90" font-size="9.3" font-weight="bold" text-anchor="middle" fill="#111" >0.3</text>
<text x="133.38" y="349.90" font-size="9.3" font-weight="bold" text-anchor="middle" fill="#111" >0.4</text>
<text x="157.30" y="349.90" font-size="9.3" font-weight="bold" text-anchor="middle" fill="#111" >0.5</text>
<text x="181.22" y="349.90" font-size="9.3" font-weight="bold" text-anchor="middle" fill="#111" >0.6</text>
<text x="205.14" y="349.90" font-size="9.3" font-weight="bold" text-anchor="middle" fill="#111" >0.7</text>
<text x="34.40" y="342.95" font-size="9.3" font-weight="bold" text-anchor="end" fill="#111" >0</text>
<text x="34.40" y="311.55" font-size="9.3" font-weight="bold" text-anchor="end" fill="#111" >4</text>
<text x="34.40" y="280.15" font-size="9.3" font-weight="bold" text-anchor="end" fill="#111" >8</text>
<text x="34.40" y="248.75" font-size="9.3" font-weight="bold" text-anchor="end" fill="#111" >12</text>
<text x="34.40" y="217.35" font-size="9.3" font-weight="bold" text-anchor="end" fill="#111" >16</text>
<text x="127.00" y="363.00" font-size="11.4" font-weight="bold" text-anchor="middle" fill="#111" >Voltage (V)</text>
<text transform="translate(19.50,269.00) rotate(-90)" font-size="11.4" font-weight="bold" text-anchor="middle" fill="#111">1/C<tspan dy="-3.5" font-size="7">2</tspan><tspan dy="3.5">​</tspan> (×10<tspan dy="-3.5" font-size="7">15</tspan><tspan dy="3.5">​</tspan> F<tspan dy="-3.5" font-size="7">-2</tspan><tspan dy="3.5">​</tspan>)</text>
<line x1="139.90" y1="206.10" x2="160.70" y2="206.10" stroke="#8ccbea" stroke-width="0.9" />
<circle cx="150.30" cy="206.10" r="1.6" fill="#cfeaf8" stroke="#8ccbea" stroke-width="0.8"/>
<line x1="139.90" y1="217.30" x2="160.70" y2="217.30" stroke="#3b72c6" stroke-width="0.9" />
<circle cx="150.30" cy="217.30" r="1.6" fill="#9dbbe9" stroke="#3b72c6" stroke-width="0.8"/>
<text x="164.40" y="209.40" font-size="9.2" font-weight="bold" text-anchor="start" fill="#111" >Control</text>
<text x="164.40" y="220.50" font-size="9.2" font-weight="bold" text-anchor="start" fill="#111" >With Ta<tspan dy="2" font-size="6.2">2</tspan><tspan dy="-2">​</tspan>O<tspan dy="2" font-size="6.4">5</tspan><tspan dy="-2">​</tspan></text>
<text x="70.30" y="289.60" font-size="9.4" font-weight="bold" text-anchor="start" fill="#8ccbea" >V<tspan dy="2" font-size="6.7">bi</tspan><tspan dy="-2">​</tspan>=649 mV</text>
<text x="70.30" y="305.70" font-size="9.4" font-weight="bold" text-anchor="start" fill="#4479c8" >V<tspan dy="2" font-size="6.7">bi</tspan><tspan dy="-2">​</tspan>=703 mV</text>
<text x="226.60" y="197.60" font-size="18.5" font-weight="bold" text-anchor="start" fill="#111" >e</text>
<rect x="258.5" y="199.4" width="58.93" height="139.79999999999998" fill="#e2f2f3"/>
<rect x="317.43" y="199.4" width="87.30" height="139.79999999999998" fill="#fdeee7"/>
<rect x="404.73" y="199.4" width="28.37" height="139.79999999999998" fill="#edf6ea"/>
<line x1="258.50" y1="209.59" x2="433.10" y2="209.59" stroke="#222" stroke-width="1" stroke-dasharray="4,2.6"/>
<circle cx="313.06" cy="215.97" r="2.6" fill="#56bfc7"/>
<circle cx="312.36" cy="215.27" r="1.09" fill="#fff" fill-opacity="0.75"/>
<circle cx="299.97" cy="236.11" r="2.6" fill="#56bfc7"/>
<circle cx="299.27" cy="235.41" r="1.09" fill="#fff" fill-opacity="0.75"/>
<circle cx="310.88" cy="235.51" r="2.6" fill="#56bfc7"/>
<circle cx="310.18" cy="234.81" r="1.09" fill="#fff" fill-opacity="0.75"/>
<circle cx="299.97" cy="267.42" r="2.6" fill="#56bfc7"/>
<circle cx="299.27" cy="266.72" r="1.09" fill="#fff" fill-opacity="0.75"/>
<circle cx="291.24" cy="289.35" r="2.6" fill="#56bfc7"/>
<circle cx="290.54" cy="288.65" r="1.09" fill="#fff" fill-opacity="0.75"/>
<circle cx="280.33" cy="300.72" r="2.6" fill="#56bfc7"/>
<circle cx="279.63" cy="300.02" r="1.09" fill="#fff" fill-opacity="0.75"/>
<circle cx="280.33" cy="307.30" r="2.6" fill="#56bfc7"/>
<circle cx="279.63" cy="306.60" r="1.09" fill="#fff" fill-opacity="0.75"/>
<circle cx="323.98" cy="205.60" r="2.6" fill="#f5a373"/>
<circle cx="323.28" cy="204.90" r="1.09" fill="#fff" fill-opacity="0.75"/>
<circle cx="374.17" cy="209.59" r="2.6" fill="#f5a373"/>
<circle cx="373.47" cy="208.89" r="1.09" fill="#fff" fill-opacity="0.75"/>
<circle cx="365.44" cy="219.56" r="2.6" fill="#f5a373"/>
<circle cx="364.74" cy="218.86" r="1.09" fill="#fff" fill-opacity="0.75"/>
<circle cx="365.44" cy="239.30" r="2.6" fill="#f5a373"/>
<circle cx="364.74" cy="238.60" r="1.09" fill="#fff" fill-opacity="0.75"/>
<circle cx="400.36" cy="298.12" r="2.6" fill="#f5a373"/>
<circle cx="399.66" cy="297.42" r="1.09" fill="#fff" fill-opacity="0.75"/>
<circle cx="400.36" cy="305.10" r="2.6" fill="#f5a373"/>
<circle cx="399.66" cy="304.40" r="1.09" fill="#fff" fill-opacity="0.75"/>
<circle cx="417.82" cy="257.84" r="2.6" fill="#8fcc7a"/>
<circle cx="417.12" cy="257.14" r="1.09" fill="#fff" fill-opacity="0.75"/>
<circle cx="413.46" cy="276.39" r="2.6" fill="#8fcc7a"/>
<circle cx="412.76" cy="275.69" r="1.09" fill="#fff" fill-opacity="0.75"/>
<polygon points="374.17,201.60 375.36,204.77 378.74,204.92 376.09,207.02 376.99,210.28 374.17,208.42 371.35,210.28 372.26,207.02 369.61,204.92 372.99,204.77" fill="#f01818"/>
<text x="291.90" y="215.70" font-size="5.75" font-weight="normal" text-anchor="start" fill="#333" >Ref.38</text>
<text x="291.90" y="221.90" font-size="5.75" font-weight="normal" text-anchor="start" fill="#333" >10.18%</text>
<text x="323.80" y="214.00" font-size="5.75" font-weight="normal" text-anchor="start" fill="#333" >Ref.5</text>
<text x="323.80" y="220.20" font-size="5.75" font-weight="normal" text-anchor="start" fill="#333" >10.70%</text>
<text x="280.00" y="234.40" font-size="5.75" font-weight="normal" text-anchor="start" fill="#333" >Ref.22</text>
<text x="280.00" y="240.60" font-size="5.75" font-weight="normal" text-anchor="start" fill="#333" >9.17%</text>
<text x="314.80" y="234.40" font-size="5.75" font-weight="normal" text-anchor="start" fill="#333" >Ref.46</text>
<text x="314.80" y="240.60" font-size="5.75" font-weight="normal" text-anchor="start" fill="#333" >9.2%</text>
<text x="303.10" y="268.70" font-size="5.75" font-weight="normal" text-anchor="start" fill="#333" >Ref.39</text>
<text x="303.10" y="274.90" font-size="5.75" font-weight="normal" text-anchor="start" fill="#333" >7.6%</text>
<text x="294.90" y="290.70" font-size="5.75" font-weight="normal" text-anchor="start" fill="#333" >Ref.29</text>
<text x="294.90" y="296.90" font-size="5.75" font-weight="normal" text-anchor="start" fill="#333" >6.5%</text>
<text x="262.10" y="295.70" font-size="5.75" font-weight="normal" text-anchor="start" fill="#333" >Ref.4</text>
<text x="262.10" y="301.90" font-size="5.75" font-weight="normal" text-anchor="start" fill="#333" >5.93%</text>
<text x="283.80" y="309.30" font-size="5.75" font-weight="normal" text-anchor="start" fill="#333" >Ref.3</text>
<text x="283.80" y="315.50" font-size="5.75" font-weight="normal" text-anchor="start" fill="#333" >5.6%</text>
<text x="346.00" y="220.50" font-size="5.75" font-weight="normal" text-anchor="start" fill="#333" >Ref.31</text>
<text x="346.00" y="226.70" font-size="5.75" font-weight="normal" text-anchor="start" fill="#333" >10.0%</text>
<text x="376.60" y="215.60" font-size="5.75" font-weight="normal" text-anchor="start" fill="#333" >Ref.8</text>
<text x="376.60" y="221.80" font-size="5.75" font-weight="normal" text-anchor="start" fill="#333" >10.50%</text>
<text x="368.90" y="238.10" font-size="5.75" font-weight="normal" text-anchor="start" fill="#333" >Ref.45</text>
<text x="368.90" y="244.30" font-size="5.75" font-weight="normal" text-anchor="start" fill="#333" >9.01%</text>
<text x="397.00" y="256.10" font-size="5.75" font-weight="normal" text-anchor="start" fill="#333" >Ref.32</text>
<text x="397.00" y="262.30" font-size="5.75" font-weight="normal" text-anchor="start" fill="#333" >8.06%</text>
<text x="392.80" y="274.60" font-size="5.75" font-weight="normal" text-anchor="start" fill="#333" >Ref.49</text>
<text x="392.80" y="280.80" font-size="5.75" font-weight="normal" text-anchor="start" fill="#333" >7.15%</text>
<text x="404.70" y="294.80" font-size="5.75" font-weight="normal" text-anchor="start" fill="#333" >Ref.48</text>
<text x="404.70" y="301.00" font-size="5.75" font-weight="normal" text-anchor="start" fill="#333" >6.06%</text>
<text x="379.90" y="306.10" font-size="5.75" font-weight="normal" text-anchor="start" fill="#333" >Ref.47</text>
<text x="379.90" y="312.30" font-size="5.75" font-weight="normal" text-anchor="start" fill="#333" >5.71%</text>
<text x="340.10" y="207.20" font-size="6.15" font-weight="bold" text-anchor="start" fill="#111" >This work</text>
<text x="380.00" y="207.20" font-size="6.0" font-weight="bold" text-anchor="start" fill="#111" >10.65%</text>
<text x="271.20" y="333.30" font-size="8.6" font-weight="bold" text-anchor="start" fill="#111" >Sb<tspan dy="1.8" font-size="6">2</tspan><tspan dy="-1.8">​</tspan>Se<tspan dy="1.8" font-size="6">3</tspan><tspan dy="-1.8">​</tspan></text>
<text x="339.60" y="333.30" font-size="8.6" font-weight="bold" text-anchor="start" fill="#111" >Sb<tspan dy="1.8" font-size="6">2</tspan><tspan dy="-1.8">​</tspan>(S,Se)<tspan dy="1.8" font-size="6">3</tspan><tspan dy="-1.8">​</tspan></text>
<text x="407.80" y="333.30" font-size="8.6" font-weight="bold" text-anchor="start" fill="#111" >Sb<tspan dy="1.8" font-size="6">2</tspan><tspan dy="-1.8">​</tspan>S<tspan dy="1.8" font-size="6">3</tspan><tspan dy="-1.8">​</tspan></text>
<rect x="258.50" y="199.40" width="174.60" height="139.80" fill="none" stroke="#2a2a2a" stroke-width="1"/>
<line x1="258.50" y1="339.20" x2="258.50" y2="336.20" stroke="#2a2a2a" stroke-width="1" />
<line x1="302.15" y1="339.20" x2="302.15" y2="336.20" stroke="#2a2a2a" stroke-width="1" />
<line x1="345.80" y1="339.20" x2="345.80" y2="336.20" stroke="#2a2a2a" stroke-width="1" />
<line x1="389.45" y1="339.20" x2="389.45" y2="336.20" stroke="#2a2a2a" stroke-width="1" />
<line x1="433.10" y1="339.20" x2="433.10" y2="336.20" stroke="#2a2a2a" stroke-width="1" />
<line x1="280.33" y1="339.20" x2="280.33" y2="337.40" stroke="#2a2a2a" stroke-width="1" />
<line x1="323.98" y1="339.20" x2="323.98" y2="337.40" stroke="#2a2a2a" stroke-width="1" />
<line x1="367.62" y1="339.20" x2="367.62" y2="337.40" stroke="#2a2a2a" stroke-width="1" />
<line x1="411.27" y1="339.20" x2="411.27" y2="337.40" stroke="#2a2a2a" stroke-width="1" />
<line x1="258.50" y1="339.20" x2="261.50" y2="339.20" stroke="#2a2a2a" stroke-width="1" />
<line x1="258.50" y1="319.26" x2="261.50" y2="319.26" stroke="#2a2a2a" stroke-width="1" />
<line x1="258.50" y1="299.32" x2="261.50" y2="299.32" stroke="#2a2a2a" stroke-width="1" />
<line x1="258.50" y1="279.38" x2="261.50" y2="279.38" stroke="#2a2a2a" stroke-width="1" />
<line x1="258.50" y1="259.44" x2="261.50" y2="259.44" stroke="#2a2a2a" stroke-width="1" />
<line x1="258.50" y1="239.50" x2="261.50" y2="239.50" stroke="#2a2a2a" stroke-width="1" />
<line x1="258.50" y1="219.56" x2="261.50" y2="219.56" stroke="#2a2a2a" stroke-width="1" />
<line x1="258.50" y1="199.62" x2="261.50" y2="199.62" stroke="#2a2a2a" stroke-width="1" />
<line x1="258.50" y1="329.23" x2="260.30" y2="329.23" stroke="#2a2a2a" stroke-width="1" />
<line x1="258.50" y1="309.29" x2="260.30" y2="309.29" stroke="#2a2a2a" stroke-width="1" />
<line x1="258.50" y1="289.35" x2="260.30" y2="289.35" stroke="#2a2a2a" stroke-width="1" />
<line x1="258.50" y1="269.41" x2="260.30" y2="269.41" stroke="#2a2a2a" stroke-width="1" />
<line x1="258.50" y1="249.47" x2="260.30" y2="249.47" stroke="#2a2a2a" stroke-width="1" />
<line x1="258.50" y1="229.53" x2="260.30" y2="229.53" stroke="#2a2a2a" stroke-width="1" />
<line x1="258.50" y1="209.59" x2="260.30" y2="209.59" stroke="#2a2a2a" stroke-width="1" />
<text x="258.50" y="349.90" font-size="9.3" font-weight="bold" text-anchor="middle" fill="#111" >1.0</text>
<text x="302.15" y="349.90" font-size="9.3" font-weight="bold" text-anchor="middle" fill="#111" >1.2</text>
<text x="345.80" y="349.90" font-size="9.3" font-weight="bold" text-anchor="middle" fill="#111" >1.4</text>
<text x="389.45" y="349.90" font-size="9.3" font-weight="bold" text-anchor="middle" fill="#111" >1.6</text>
<text x="433.10" y="349.90" font-size="9.3" font-weight="bold" text-anchor="middle" fill="#111" >1.8</text>
<text x="254.80" y="342.55" font-size="9.3" font-weight="bold" text-anchor="end" fill="#111" >4</text>
<text x="254.80" y="322.61" font-size="9.3" font-weight="bold" text-anchor="end" fill="#111" >5</text>
<text x="254.80" y="302.67" font-size="9.3" font-weight="bold" text-anchor="end" fill="#111" >6</text>
<text x="254.80" y="282.73" font-size="9.3" font-weight="bold" text-anchor="end" fill="#111" >7</text>
<text x="254.80" y="262.79" font-size="9.3" font-weight="bold" text-anchor="end" fill="#111" >8</text>
<text x="254.80" y="242.85" font-size="9.3" font-weight="bold" text-anchor="end" fill="#111" >9</text>
<text x="254.80" y="222.91" font-size="9.3" font-weight="bold" text-anchor="end" fill="#111" >10</text>
<text x="254.80" y="202.97" font-size="9.3" font-weight="bold" text-anchor="end" fill="#111" >11</text>
<text x="345.80" y="363.00" font-size="11.0" font-weight="bold" text-anchor="middle" fill="#111" >Bandgap (eV)</text>
<text transform="translate(241.40,268.80) rotate(-90)" font-size="11.05" font-weight="bold" text-anchor="middle" fill="#111">PCE (%)</text>
<text x="464.60" y="197.60" font-size="18.5" font-weight="bold" text-anchor="start" fill="#111" >f</text>
<rect x="494.5" y="199.3" width="61.42" height="140.0" fill="#e2f2f3"/>
<rect x="555.92" y="199.3" width="91.00" height="140.0" fill="#fdeee7"/>
<rect x="646.92" y="199.3" width="29.58" height="140.0" fill="#edf6ea"/>
<clipPath id="cf"><rect x="494.5" y="199.3" width="182.0" height="140.0"/></clipPath>
<g clip-path="url(#cf)">
<line x1="494.50" y1="273.40" x2="676.50" y2="201.10" stroke="#111" stroke-width="1.3" />
<line x1="494.50" y1="279.99" x2="676.50" y2="214.92" stroke="#222" stroke-width="0.8" />
<line x1="494.50" y1="306.35" x2="676.50" y2="270.20" stroke="#222" stroke-width="0.7" />
<line x1="494.50" y1="312.94" x2="676.50" y2="284.02" stroke="#222" stroke-width="0.7" />
<line x1="494.50" y1="319.53" x2="676.50" y2="297.84" stroke="#222" stroke-width="0.7" />
</g>
<circle cx="517.25" cy="316.40" r="2.6" fill="#56bfc7"/>
<circle cx="516.55" cy="315.70" r="1.09" fill="#fff" fill-opacity="0.75"/>
<circle cx="528.62" cy="313.50" r="2.6" fill="#56bfc7"/>
<circle cx="527.92" cy="312.80" r="1.09" fill="#fff" fill-opacity="0.75"/>
<circle cx="537.73" cy="308.10" r="2.6" fill="#56bfc7"/>
<circle cx="537.02" cy="307.40" r="1.09" fill="#fff" fill-opacity="0.75"/>
<circle cx="537.73" cy="313.80" r="2.6" fill="#56bfc7"/>
<circle cx="537.02" cy="313.10" r="1.09" fill="#fff" fill-opacity="0.75"/>
<circle cx="551.38" cy="305.70" r="2.6" fill="#56bfc7"/>
<circle cx="550.67" cy="305.00" r="1.09" fill="#fff" fill-opacity="0.75"/>
<circle cx="549.10" cy="310.80" r="2.6" fill="#56bfc7"/>
<circle cx="548.40" cy="310.10" r="1.09" fill="#fff" fill-opacity="0.75"/>
<circle cx="562.75" cy="299.50" r="2.6" fill="#f5a373"/>
<circle cx="562.05" cy="298.80" r="1.09" fill="#fff" fill-opacity="0.75"/>
<circle cx="605.98" cy="297.80" r="2.6" fill="#f5a373"/>
<circle cx="605.27" cy="297.10" r="1.09" fill="#fff" fill-opacity="0.75"/>
<circle cx="615.08" cy="294.90" r="2.6" fill="#f5a373"/>
<circle cx="614.38" cy="294.20" r="1.09" fill="#fff" fill-opacity="0.75"/>
<circle cx="642.38" cy="298.00" r="2.6" fill="#f5a373"/>
<circle cx="641.67" cy="297.30" r="1.09" fill="#fff" fill-opacity="0.75"/>
<circle cx="642.38" cy="309.50" r="2.6" fill="#f5a373"/>
<circle cx="641.67" cy="308.80" r="1.09" fill="#fff" fill-opacity="0.75"/>
<circle cx="660.58" cy="294.00" r="2.6" fill="#8fcc7a"/>
<circle cx="659.88" cy="293.30" r="1.09" fill="#fff" fill-opacity="0.75"/>
<circle cx="656.02" cy="295.70" r="2.6" fill="#8fcc7a"/>
<circle cx="655.32" cy="295.00" r="1.09" fill="#fff" fill-opacity="0.75"/>
<polygon points="615.08,286.50 616.26,289.67 619.64,289.82 616.99,291.92 617.90,295.18 615.08,293.32 612.25,295.18 613.16,291.92 610.51,289.82 613.89,289.67" fill="#f01818"/>
<text x="501.00" y="315.50" font-size="5.75" font-weight="normal" text-anchor="start" fill="#333" >Ref.4</text>
<text x="502.40" y="323.40" font-size="5.75" font-weight="normal" text-anchor="start" fill="#333" >Ref.3</text>
<text x="516.30" y="311.00" font-size="5.75" font-weight="normal" text-anchor="start" fill="#333" >Ref.29</text>
<text x="526.20" y="304.50" font-size="5.75" font-weight="normal" text-anchor="start" fill="#333" >Ref.46</text>
<text x="531.60" y="321.20" font-size="5.75" font-weight="normal" text-anchor="start" fill="#333" >Ref.22</text>
<text x="543.40" y="301.60" font-size="5.75" font-weight="normal" text-anchor="start" fill="#333" >Ref.40</text>
<text x="552.30" y="314.60" font-size="5.75" font-weight="normal" text-anchor="start" fill="#333" >Ref.38</text>
<text x="566.00" y="299.40" font-size="5.75" font-weight="normal" text-anchor="start" fill="#333" >Ref.5</text>
<text x="587.00" y="294.80" font-size="5.75" font-weight="normal" text-anchor="start" fill="#333" >Ref.31</text>
<text x="592.10" y="305.30" font-size="5.75" font-weight="normal" text-anchor="start" fill="#333" >Ref.45</text>
<text x="611.20" y="301.80" font-size="5.75" font-weight="normal" text-anchor="start" fill="#333" >Ref.8</text>
<text x="628.70" y="293.50" font-size="5.75" font-weight="normal" text-anchor="start" fill="#333" >Ref.48</text>
<text x="632.10" y="316.80" font-size="5.75" font-weight="normal" text-anchor="start" fill="#333" >Ref.47</text>
<text x="650.80" y="290.40" font-size="5.75" font-weight="normal" text-anchor="start" fill="#333" >Ref.32</text>
<text x="647.70" y="301.90" font-size="5.75" font-weight="normal" text-anchor="start" fill="#333" >Ref.49</text>
<text x="601.30" y="287.80" font-size="6.15" font-weight="bold" text-anchor="start" fill="#111" >This work</text>
<text x="514.10" y="331.80" font-size="8.6" font-weight="bold" text-anchor="start" fill="#111" >Sb<tspan dy="1.8" font-size="6">2</tspan><tspan dy="-1.8">​</tspan>Se<tspan dy="1.8" font-size="6">3</tspan><tspan dy="-1.8">​</tspan></text>
<text x="580.80" y="331.50" font-size="8.6" font-weight="bold" text-anchor="start" fill="#111" >Sb<tspan dy="1.8" font-size="6">2</tspan><tspan dy="-1.8">​</tspan>(S,Se)<tspan dy="1.8" font-size="6">3</tspan><tspan dy="-1.8">​</tspan></text>
<text x="649.70" y="331.50" font-size="8.6" font-weight="bold" text-anchor="start" fill="#111" >Sb<tspan dy="1.8" font-size="6">2</tspan><tspan dy="-1.8">​</tspan>S<tspan dy="1.8" font-size="6">3</tspan><tspan dy="-1.8">​</tspan></text>
<text x="596.70" y="207.60" font-size="8.8" font-weight="bold" text-anchor="start" fill="#111" ><tspan font-style="italic">V</tspan><tspan dy="2.4" font-size="6.3"><tspan font-style="italic">OC,SQ</tspan></tspan><tspan dy="-2.4">​</tspan>×FF<tspan dy="2.4" font-size="6.3">SQ</tspan><tspan dy="-2.4">​</tspan></text>
<text x="654.90" y="230.20" font-size="8.8" font-weight="bold" text-anchor="start" fill="#111" >90%</text>
<text x="656.40" y="268.90" font-size="8.8" font-weight="bold" text-anchor="start" fill="#111" >50%</text>
<text x="656.40" y="283.40" font-size="8.8" font-weight="bold" text-anchor="start" fill="#111" >40%</text>
<text x="656.60" y="310.70" font-size="8.8" font-weight="bold" text-anchor="start" fill="#111" >30%</text>
<rect x="494.50" y="199.30" width="182.00" height="140.00" fill="none" stroke="#2a2a2a" stroke-width="1"/>
<line x1="494.50" y1="339.30" x2="494.50" y2="336.30" stroke="#2a2a2a" stroke-width="1" />
<line x1="540.00" y1="339.30" x2="540.00" y2="336.30" stroke="#2a2a2a" stroke-width="1" />
<line x1="585.50" y1="339.30" x2="585.50" y2="336.30" stroke="#2a2a2a" stroke-width="1" />
<line x1="631.00" y1="339.30" x2="631.00" y2="336.30" stroke="#2a2a2a" stroke-width="1" />
<line x1="676.50" y1="339.30" x2="676.50" y2="336.30" stroke="#2a2a2a" stroke-width="1" />
<line x1="517.25" y1="339.30" x2="517.25" y2="337.50" stroke="#2a2a2a" stroke-width="1" />
<line x1="562.75" y1="339.30" x2="562.75" y2="337.50" stroke="#2a2a2a" stroke-width="1" />
<line x1="608.25" y1="339.30" x2="608.25" y2="337.50" stroke="#2a2a2a" stroke-width="1" />
<line x1="653.75" y1="339.30" x2="653.75" y2="337.50" stroke="#2a2a2a" stroke-width="1" />
<line x1="494.50" y1="339.30" x2="497.50" y2="339.30" stroke="#2a2a2a" stroke-width="1" />
<line x1="494.50" y1="319.30" x2="497.50" y2="319.30" stroke="#2a2a2a" stroke-width="1" />
<line x1="494.50" y1="299.30" x2="497.50" y2="299.30" stroke="#2a2a2a" stroke-width="1" />
<line x1="494.50" y1="279.30" x2="497.50" y2="279.30" stroke="#2a2a2a" stroke-width="1" />
<line x1="494.50" y1="259.30" x2="497.50" y2="259.30" stroke="#2a2a2a" stroke-width="1" />
<line x1="494.50" y1="239.30" x2="497.50" y2="239.30" stroke="#2a2a2a" stroke-width="1" />
<line x1="494.50" y1="219.30" x2="497.50" y2="219.30" stroke="#2a2a2a" stroke-width="1" />
<line x1="494.50" y1="199.30" x2="497.50" y2="199.30" stroke="#2a2a2a" stroke-width="1" />
<line x1="494.50" y1="329.30" x2="496.30" y2="329.30" stroke="#2a2a2a" stroke-width="1" />
<line x1="494.50" y1="309.30" x2="496.30" y2="309.30" stroke="#2a2a2a" stroke-width="1" />
<line x1="494.50" y1="289.30" x2="496.30" y2="289.30" stroke="#2a2a2a" stroke-width="1" />
<line x1="494.50" y1="269.30" x2="496.30" y2="269.30" stroke="#2a2a2a" stroke-width="1" />
<line x1="494.50" y1="249.30" x2="496.30" y2="249.30" stroke="#2a2a2a" stroke-width="1" />
<line x1="494.50" y1="229.30" x2="496.30" y2="229.30" stroke="#2a2a2a" stroke-width="1" />
<line x1="494.50" y1="209.30" x2="496.30" y2="209.30" stroke="#2a2a2a" stroke-width="1" />
<text x="494.50" y="349.90" font-size="9.3" font-weight="bold" text-anchor="middle" fill="#111" >1.0</text>
<text x="540.00" y="349.90" font-size="9.3" font-weight="bold" text-anchor="middle" fill="#111" >1.2</text>
<text x="585.50" y="349.90" font-size="9.3" font-weight="bold" text-anchor="middle" fill="#111" >1.4</text>
<text x="631.00" y="349.90" font-size="9.3" font-weight="bold" text-anchor="middle" fill="#111" >1.6</text>
<text x="676.50" y="349.90" font-size="9.3" font-weight="bold" text-anchor="middle" fill="#111" >1.8</text>
<text x="492.00" y="342.65" font-size="9.3" font-weight="bold" text-anchor="end" fill="#111" >0</text>
<text x="492.00" y="322.65" font-size="9.3" font-weight="bold" text-anchor="end" fill="#111" >20</text>
<text x="492.00" y="302.65" font-size="9.3" font-weight="bold" text-anchor="end" fill="#111" >40</text>
<text x="492.00" y="282.65" font-size="9.3" font-weight="bold" text-anchor="end" fill="#111" >60</text>
<text x="492.00" y="262.65" font-size="9.3" font-weight="bold" text-anchor="end" fill="#111" >80</text>
<text x="492.00" y="242.65" font-size="9.3" font-weight="bold" text-anchor="end" fill="#111" >100</text>
<text x="492.00" y="222.65" font-size="9.3" font-weight="bold" text-anchor="end" fill="#111" >120</text>
<text x="492.00" y="202.65" font-size="9.3" font-weight="bold" text-anchor="end" fill="#111" >140</text>
<text x="585.50" y="363.00" font-size="11.4" font-weight="bold" text-anchor="middle" fill="#111" >Bandgap (eV)</text>
<text transform="translate(469.30,268.70) rotate(-90)" font-size="10.8" font-weight="bold" text-anchor="middle" fill="#111"><tspan font-style="italic">V</tspan><tspan dy="2.5" font-size="7.6"><tspan font-style="italic">OC</tspan></tspan><tspan dy="-2.5">​</tspan>×FF</text>
<text x="-0.50" y="372.80" font-size="18.5" font-weight="bold" text-anchor="start" fill="#111" >g</text>
<line x1="46.00" y1="475.09" x2="210.50" y2="430.86" stroke="#f8b9b9" stroke-width="0.9" />
<line x1="46.00" y1="444.38" x2="210.50" y2="403.62" stroke="#e23a3a" stroke-width="0.9" />
<circle cx="46.00" cy="474.73" r="1.9" fill="#a4d6ef" stroke="none" stroke-width="0.8"/>
<circle cx="45.50" cy="474.23" r="0.8" fill="#e6f5fc" stroke="none" stroke-width="0.8"/>
<circle cx="95.52" cy="462.30" r="1.9" fill="#a4d6ef" stroke="none" stroke-width="0.8"/>
<circle cx="95.02" cy="461.80" r="0.8" fill="#e6f5fc" stroke="none" stroke-width="0.8"/>
<circle cx="124.49" cy="453.82" r="1.9" fill="#a4d6ef" stroke="none" stroke-width="0.8"/>
<circle cx="123.99" cy="453.32" r="0.8" fill="#e6f5fc" stroke="none" stroke-width="0.8"/>
<circle cx="145.04" cy="449.30" r="1.9" fill="#a4d6ef" stroke="none" stroke-width="0.8"/>
<circle cx="144.54" cy="448.80" r="0.8" fill="#e6f5fc" stroke="none" stroke-width="0.8"/>
<circle cx="160.98" cy="444.21" r="1.9" fill="#a4d6ef" stroke="none" stroke-width="0.8"/>
<circle cx="160.48" cy="443.71" r="0.8" fill="#e6f5fc" stroke="none" stroke-width="0.8"/>
<circle cx="174.01" cy="440.82" r="1.9" fill="#a4d6ef" stroke="none" stroke-width="0.8"/>
<circle cx="173.51" cy="440.32" r="0.8" fill="#e6f5fc" stroke="none" stroke-width="0.8"/>
<circle cx="185.02" cy="437.43" r="1.9" fill="#a4d6ef" stroke="none" stroke-width="0.8"/>
<circle cx="184.52" cy="436.93" r="0.8" fill="#e6f5fc" stroke="none" stroke-width="0.8"/>
<circle cx="194.56" cy="435.17" r="1.9" fill="#a4d6ef" stroke="none" stroke-width="0.8"/>
<circle cx="194.06" cy="434.67" r="0.8" fill="#e6f5fc" stroke="none" stroke-width="0.8"/>
<circle cx="202.97" cy="432.34" r="1.9" fill="#a4d6ef" stroke="none" stroke-width="0.8"/>
<circle cx="202.47" cy="431.84" r="0.8" fill="#e6f5fc" stroke="none" stroke-width="0.8"/>
<circle cx="210.50" cy="430.65" r="1.9" fill="#a4d6ef" stroke="none" stroke-width="0.8"/>
<circle cx="210.00" cy="430.15" r="0.8" fill="#e6f5fc" stroke="none" stroke-width="0.8"/>
<circle cx="46.00" cy="444.78" r="1.9" fill="#4a7cc8" stroke="none" stroke-width="0.8"/>
<circle cx="45.50" cy="444.28" r="0.8" fill="#a9c3ec" stroke="none" stroke-width="0.8"/>
<circle cx="95.52" cy="432.91" r="1.9" fill="#4a7cc8" stroke="none" stroke-width="0.8"/>
<circle cx="95.02" cy="432.41" r="0.8" fill="#a9c3ec" stroke="none" stroke-width="0.8"/>
<circle cx="124.49" cy="423.86" r="1.9" fill="#4a7cc8" stroke="none" stroke-width="0.8"/>
<circle cx="123.99" cy="423.36" r="0.8" fill="#a9c3ec" stroke="none" stroke-width="0.8"/>
<circle cx="145.04" cy="419.91" r="1.9" fill="#4a7cc8" stroke="none" stroke-width="0.8"/>
<circle cx="144.54" cy="419.41" r="0.8" fill="#a9c3ec" stroke="none" stroke-width="0.8"/>
<circle cx="160.98" cy="415.95" r="1.9" fill="#4a7cc8" stroke="none" stroke-width="0.8"/>
<circle cx="160.48" cy="415.45" r="0.8" fill="#a9c3ec" stroke="none" stroke-width="0.8"/>
<circle cx="174.01" cy="411.99" r="1.9" fill="#4a7cc8" stroke="none" stroke-width="0.8"/>
<circle cx="173.51" cy="411.49" r="0.8" fill="#a9c3ec" stroke="none" stroke-width="0.8"/>
<circle cx="185.02" cy="409.73" r="1.9" fill="#4a7cc8" stroke="none" stroke-width="0.8"/>
<circle cx="184.52" cy="409.23" r="0.8" fill="#a9c3ec" stroke="none" stroke-width="0.8"/>
<circle cx="194.56" cy="407.47" r="1.9" fill="#4a7cc8" stroke="none" stroke-width="0.8"/>
<circle cx="194.06" cy="406.97" r="0.8" fill="#a9c3ec" stroke="none" stroke-width="0.8"/>
<circle cx="202.97" cy="405.78" r="1.9" fill="#4a7cc8" stroke="none" stroke-width="0.8"/>
<circle cx="202.47" cy="405.28" r="0.8" fill="#a9c3ec" stroke="none" stroke-width="0.8"/>
<circle cx="210.50" cy="404.08" r="1.9" fill="#4a7cc8" stroke="none" stroke-width="0.8"/>
<circle cx="210.00" cy="403.58" r="0.8" fill="#a9c3ec" stroke="none" stroke-width="0.8"/>
<rect x="38.80" y="371.30" width="177.80" height="141.30" fill="none" stroke="#2a2a2a" stroke-width="1"/>
<line x1="38.80" y1="512.60" x2="41.80" y2="512.60" stroke="#2a2a2a" stroke-width="1" />
<line x1="38.80" y1="484.34" x2="41.80" y2="484.34" stroke="#2a2a2a" stroke-width="1" />
<line x1="38.80" y1="456.08" x2="41.80" y2="456.08" stroke="#2a2a2a" stroke-width="1" />
<line x1="38.80" y1="427.82" x2="41.80" y2="427.82" stroke="#2a2a2a" stroke-width="1" />
<line x1="38.80" y1="399.56" x2="41.80" y2="399.56" stroke="#2a2a2a" stroke-width="1" />
<line x1="38.80" y1="371.30" x2="41.80" y2="371.30" stroke="#2a2a2a" stroke-width="1" />
<line x1="38.80" y1="498.47" x2="40.60" y2="498.47" stroke="#2a2a2a" stroke-width="1" />
<line x1="38.80" y1="470.21" x2="40.60" y2="470.21" stroke="#2a2a2a" stroke-width="1" />
<line x1="38.80" y1="441.95" x2="40.60" y2="441.95" stroke="#2a2a2a" stroke-width="1" />
<line x1="38.80" y1="413.69" x2="40.60" y2="413.69" stroke="#2a2a2a" stroke-width="1" />
<line x1="38.80" y1="385.43" x2="40.60" y2="385.43" stroke="#2a2a2a" stroke-width="1" />
<line x1="46.00" y1="512.60" x2="46.00" y2="509.60" stroke="#2a2a2a" stroke-width="1" />
<line x1="210.50" y1="512.60" x2="210.50" y2="509.60" stroke="#2a2a2a" stroke-width="1" />
<line x1="95.52" y1="512.60" x2="95.52" y2="510.80" stroke="#2a2a2a" stroke-width="1" />
<line x1="124.49" y1="512.60" x2="124.49" y2="510.80" stroke="#2a2a2a" stroke-width="1" />
<line x1="145.04" y1="512.60" x2="145.04" y2="510.80" stroke="#2a2a2a" stroke-width="1" />
<line x1="160.98" y1="512.60" x2="160.98" y2="510.80" stroke="#2a2a2a" stroke-width="1" />
<line x1="174.01" y1="512.60" x2="174.01" y2="510.80" stroke="#2a2a2a" stroke-width="1" />
<line x1="185.02" y1="512.60" x2="185.02" y2="510.80" stroke="#2a2a2a" stroke-width="1" />
<line x1="194.56" y1="512.60" x2="194.56" y2="510.80" stroke="#2a2a2a" stroke-width="1" />
<line x1="202.97" y1="512.60" x2="202.97" y2="510.80" stroke="#2a2a2a" stroke-width="1" />
<text x="35.30" y="515.95" font-size="9.3" font-weight="bold" text-anchor="end" fill="#111" >0.50</text>
<text x="35.30" y="487.69" font-size="9.3" font-weight="bold" text-anchor="end" fill="#111" >0.55</text>
<text x="35.30" y="459.43" font-size="9.3" font-weight="bold" text-anchor="end" fill="#111" >0.60</text>
<text x="35.30" y="431.17" font-size="9.3" font-weight="bold" text-anchor="end" fill="#111" >0.65</text>
<text x="35.30" y="402.91" font-size="9.3" font-weight="bold" text-anchor="end" fill="#111" >0.70</text>
<text x="35.30" y="374.65" font-size="9.3" font-weight="bold" text-anchor="end" fill="#111" >0.75</text>
<text x="46.00" y="523.60" font-size="9.3" font-weight="bold" text-anchor="middle" fill="#111" >10</text>
<text x="210.50" y="523.60" font-size="9.3" font-weight="bold" text-anchor="middle" fill="#111" >100</text>
<text x="127.90" y="537.00" font-size="11.0" font-weight="bold" text-anchor="middle" fill="#111" >Light Intensity (mW cm<tspan dy="-3.8" font-size="7">-2</tspan><tspan dy="3.8">​</tspan>)</text>
<text transform="translate(14.40,444.30) rotate(-90)" font-size="10.6" font-weight="bold" text-anchor="middle" fill="#111">Voltage (V)</text>
<circle cx="52.00" cy="378.30" r="1.9" fill="#a4d6ef" stroke="none" stroke-width="0.8"/>
<circle cx="51.50" cy="377.80" r="0.8" fill="#e6f5fc" stroke="none" stroke-width="0.8"/>
<circle cx="52.00" cy="391.60" r="1.9" fill="#4a7cc8" stroke="none" stroke-width="0.8"/>
<circle cx="51.50" cy="391.10" r="0.8" fill="#a9c3ec" stroke="none" stroke-width="0.8"/>
<line x1="42.00" y1="404.80" x2="62.20" y2="404.80" stroke="#f8d0d0" stroke-width="1.2" />
<line x1="42.00" y1="416.40" x2="62.20" y2="416.40" stroke="#e23a3a" stroke-width="0.9" />
<text x="65.70" y="381.30" font-size="9.3" font-weight="bold" text-anchor="start" fill="#111" >Control 1.323<tspan font-style="italic">K</tspan><tspan dy="2" font-size="6.8"><tspan font-style="italic">B</tspan></tspan><tspan dy="-2">​</tspan><tspan font-style="italic">T/q</tspan></text>
<text x="65.70" y="394.60" font-size="9.3" font-weight="bold" text-anchor="start" fill="#111" >With Ta<tspan dy="2" font-size="6.6">2</tspan><tspan dy="-2">​</tspan>O<tspan dy="2" font-size="6.6">5</tspan><tspan dy="-2">​</tspan> 1.219<tspan font-style="italic">K</tspan><tspan dy="2" font-size="6.8"><tspan font-style="italic">B</tspan></tspan><tspan dy="-2">​</tspan><tspan font-style="italic">T/q</tspan></text>
<text x="65.70" y="407.80" font-size="9.2" font-weight="bold" text-anchor="start" fill="#111" >Fitting line</text>
<text x="65.70" y="419.40" font-size="9.2" font-weight="bold" text-anchor="start" fill="#111" >Fitting line</text>
<text x="227.20" y="373.60" font-size="18.5" font-weight="bold" text-anchor="start" fill="#111" >h</text>
<g fill="#f7fbfd" stroke="#1a7aa3" stroke-width="1.3">
<circle cx="255.50" cy="384.75" r="3.0"/>
<circle cx="258.03" cy="386.26" r="3.0"/>
<circle cx="260.56" cy="384.87" r="3.0"/>
<circle cx="263.08" cy="385.29" r="3.0"/>
<circle cx="265.61" cy="386.38" r="3.0"/>
<circle cx="268.14" cy="385.18" r="3.0"/>
<circle cx="270.67" cy="387.48" r="3.0"/>
<circle cx="273.19" cy="385.70" r="3.0"/>
<circle cx="275.72" cy="385.28" r="3.0"/>
<circle cx="278.25" cy="385.05" r="3.0"/>
<circle cx="280.78" cy="384.84" r="3.0"/>
<circle cx="283.31" cy="388.74" r="3.0"/>
<circle cx="285.83" cy="383.53" r="3.0"/>
<circle cx="287.10" cy="384.25" r="3.0"/>
<circle cx="289.10" cy="384.85" r="3.0"/>
<circle cx="291.10" cy="384.74" r="3.0"/>
<circle cx="293.10" cy="384.59" r="3.0"/>
<circle cx="295.10" cy="384.75" r="3.0"/>
<circle cx="297.10" cy="384.52" r="3.0"/>
<circle cx="299.10" cy="384.75" r="3.0"/>
<circle cx="301.11" cy="384.72" r="3.0"/>
<circle cx="303.11" cy="384.43" r="3.0"/>
<circle cx="305.11" cy="384.63" r="3.0"/>
<circle cx="307.11" cy="384.85" r="3.0"/>
<circle cx="309.11" cy="384.80" r="3.0"/>
<circle cx="311.11" cy="384.69" r="3.0"/>
<circle cx="313.11" cy="384.45" r="3.0"/>
<circle cx="315.11" cy="384.92" r="3.0"/>
<circle cx="317.12" cy="384.96" r="3.0"/>
<circle cx="319.12" cy="384.76" r="3.0"/>
<circle cx="321.12" cy="385.17" r="3.0"/>
<circle cx="323.12" cy="385.11" r="3.0"/>
<circle cx="325.12" cy="384.93" r="3.0"/>
<circle cx="327.12" cy="385.03" r="3.0"/>
<circle cx="329.12" cy="385.16" r="3.0"/>
<circle cx="331.12" cy="385.09" r="3.0"/>
<circle cx="333.12" cy="385.79" r="3.0"/>
<circle cx="335.13" cy="385.06" r="3.0"/>
<circle cx="337.13" cy="385.45" r="3.0"/>
<circle cx="339.13" cy="385.48" r="3.0"/>
<circle cx="341.13" cy="384.77" r="3.0"/>
<circle cx="343.13" cy="384.40" r="3.0"/>
<circle cx="345.13" cy="384.59" r="3.0"/>
<circle cx="347.13" cy="384.71" r="3.0"/>
<circle cx="349.13" cy="384.49" r="3.0"/>
<circle cx="351.14" cy="384.51" r="3.0"/>
<circle cx="353.14" cy="384.49" r="3.0"/>
<circle cx="355.14" cy="386.19" r="3.0"/>
<circle cx="357.14" cy="386.10" r="3.0"/>
<circle cx="359.14" cy="385.15" r="3.0"/>
<circle cx="361.14" cy="384.63" r="3.0"/>
<circle cx="363.14" cy="384.29" r="3.0"/>
<circle cx="365.14" cy="384.02" r="3.0"/>
<circle cx="367.14" cy="384.07" r="3.0"/>
<circle cx="369.15" cy="384.28" r="3.0"/>
<circle cx="371.15" cy="384.47" r="3.0"/>
<circle cx="373.15" cy="384.40" r="3.0"/>
<circle cx="375.15" cy="385.07" r="3.0"/>
<circle cx="377.15" cy="384.61" r="3.0"/>
<circle cx="379.15" cy="384.79" r="3.0"/>
<circle cx="381.15" cy="385.30" r="3.0"/>
<circle cx="383.15" cy="385.04" r="3.0"/>
<circle cx="385.16" cy="385.30" r="3.0"/>
<circle cx="387.16" cy="385.03" r="3.0"/>
<circle cx="389.16" cy="385.62" r="3.0"/>
<circle cx="391.16" cy="385.46" r="3.0"/>
<circle cx="393.16" cy="385.20" r="3.0"/>
<circle cx="395.16" cy="385.17" r="3.0"/>
<circle cx="397.16" cy="385.85" r="3.0"/>
<circle cx="399.16" cy="385.58" r="3.0"/>
<circle cx="401.16" cy="385.46" r="3.0"/>
<circle cx="403.17" cy="385.68" r="3.0"/>
<circle cx="405.17" cy="385.30" r="3.0"/>
<circle cx="407.17" cy="385.87" r="3.0"/>
<circle cx="409.17" cy="385.60" r="3.0"/>
<circle cx="411.17" cy="385.90" r="3.0"/>
<circle cx="413.17" cy="385.45" r="3.0"/>
<circle cx="415.17" cy="385.75" r="3.0"/>
<circle cx="417.17" cy="385.83" r="3.0"/>
<circle cx="419.18" cy="386.10" r="3.0"/>
<circle cx="421.18" cy="385.45" r="3.0"/>
<circle cx="423.18" cy="385.64" r="3.0"/>
<circle cx="425.18" cy="385.63" r="3.0"/>
<circle cx="427.18" cy="385.53" r="3.0"/>
<circle cx="429.18" cy="385.63" r="3.0"/>
<circle cx="431.18" cy="385.77" r="3.0"/>
<circle cx="433.18" cy="385.74" r="3.0"/>
<circle cx="435.18" cy="385.70" r="3.0"/>
<circle cx="437.19" cy="385.26" r="3.0"/>
<circle cx="439.19" cy="385.78" r="3.0"/>
<circle cx="441.19" cy="385.60" r="3.0"/>
<circle cx="443.19" cy="385.53" r="3.0"/>
<circle cx="445.19" cy="385.41" r="3.0"/>
<circle cx="447.19" cy="385.33" r="3.0"/>
<circle cx="449.19" cy="385.67" r="3.0"/>
<circle cx="451.19" cy="385.75" r="3.0"/>
<circle cx="453.20" cy="385.41" r="3.0"/>
<circle cx="455.20" cy="385.17" r="3.0"/>
<circle cx="457.20" cy="385.25" r="3.0"/>
<circle cx="459.20" cy="385.36" r="3.0"/>
<circle cx="461.20" cy="385.74" r="3.0"/>
<circle cx="463.20" cy="386.52" r="3.0"/>
<circle cx="465.20" cy="387.11" r="3.0"/>
<circle cx="467.20" cy="385.20" r="3.0"/>
<circle cx="469.20" cy="384.91" r="3.0"/>
<circle cx="471.21" cy="384.75" r="3.0"/>
<circle cx="473.21" cy="384.83" r="3.0"/>
<circle cx="475.21" cy="384.77" r="3.0"/>
<circle cx="477.21" cy="385.64" r="3.0"/>
<circle cx="479.21" cy="386.69" r="3.0"/>
<circle cx="481.21" cy="386.81" r="3.0"/>
<circle cx="483.21" cy="386.23" r="3.0"/>
<circle cx="485.21" cy="386.82" r="3.0"/>
<circle cx="487.21" cy="386.49" r="3.0"/>
<circle cx="489.22" cy="386.54" r="3.0"/>
<circle cx="491.22" cy="386.32" r="3.0"/>
<circle cx="493.22" cy="386.86" r="3.0"/>
<circle cx="495.22" cy="386.20" r="3.0"/>
<circle cx="497.22" cy="386.22" r="3.0"/>
<circle cx="499.22" cy="386.68" r="3.0"/>
<circle cx="501.22" cy="386.61" r="3.0"/>
<circle cx="503.22" cy="386.58" r="3.0"/>
<circle cx="505.23" cy="386.42" r="3.0"/>
<circle cx="507.23" cy="386.30" r="3.0"/>
<circle cx="509.23" cy="386.03" r="3.0"/>
<circle cx="511.23" cy="386.46" r="3.0"/>
<circle cx="513.23" cy="386.28" r="3.0"/>
<circle cx="515.23" cy="386.39" r="3.0"/>
<circle cx="517.23" cy="386.09" r="3.0"/>
<circle cx="519.23" cy="386.28" r="3.0"/>
<circle cx="521.23" cy="386.16" r="3.0"/>
<circle cx="523.24" cy="386.63" r="3.0"/>
<circle cx="525.24" cy="386.46" r="3.0"/>
<circle cx="527.24" cy="386.58" r="3.0"/>
<circle cx="529.24" cy="386.13" r="3.0"/>
<circle cx="531.24" cy="386.37" r="3.0"/>
<circle cx="533.24" cy="386.75" r="3.0"/>
<circle cx="535.24" cy="387.02" r="3.0"/>
<circle cx="537.24" cy="387.07" r="3.0"/>
<circle cx="539.25" cy="387.44" r="3.0"/>
<circle cx="541.25" cy="387.52" r="3.0"/>
<circle cx="543.25" cy="387.27" r="3.0"/>
<circle cx="545.25" cy="386.91" r="3.0"/>
<circle cx="547.25" cy="387.44" r="3.0"/>
<circle cx="549.25" cy="387.52" r="3.0"/>
<circle cx="551.25" cy="387.65" r="3.0"/>
<circle cx="553.25" cy="387.70" r="3.0"/>
<circle cx="555.25" cy="387.35" r="3.0"/>
<circle cx="557.26" cy="387.30" r="3.0"/>
<circle cx="559.26" cy="387.47" r="3.0"/>
<circle cx="561.26" cy="387.41" r="3.0"/>
<circle cx="563.26" cy="387.46" r="3.0"/>
<circle cx="565.26" cy="387.46" r="3.0"/>
<circle cx="567.26" cy="387.79" r="3.0"/>
<circle cx="569.26" cy="387.59" r="3.0"/>
<circle cx="571.26" cy="387.48" r="3.0"/>
<circle cx="573.27" cy="387.66" r="3.0"/>
<circle cx="575.27" cy="387.61" r="3.0"/>
<circle cx="577.27" cy="387.68" r="3.0"/>
<circle cx="579.27" cy="387.60" r="3.0"/>
<circle cx="581.27" cy="387.38" r="3.0"/>
<circle cx="583.27" cy="387.63" r="3.0"/>
<circle cx="585.27" cy="387.59" r="3.0"/>
<circle cx="587.27" cy="387.42" r="3.0"/>
<circle cx="589.27" cy="387.46" r="3.0"/>
<circle cx="591.28" cy="387.27" r="3.0"/>
<circle cx="593.28" cy="388.01" r="3.0"/>
<circle cx="595.28" cy="387.45" r="3.0"/>
<circle cx="597.28" cy="387.72" r="3.0"/>
<circle cx="599.28" cy="387.61" r="3.0"/>
<circle cx="601.28" cy="387.48" r="3.0"/>
<circle cx="603.28" cy="387.44" r="3.0"/>
<circle cx="605.28" cy="387.46" r="3.0"/>
<circle cx="607.29" cy="387.65" r="3.0"/>
<circle cx="609.29" cy="387.39" r="3.0"/>
<circle cx="611.29" cy="387.78" r="3.0"/>
<circle cx="613.29" cy="387.78" r="3.0"/>
<circle cx="615.29" cy="387.63" r="3.0"/>
<circle cx="617.29" cy="387.93" r="3.0"/>
<circle cx="619.29" cy="387.90" r="3.0"/>
<circle cx="621.29" cy="389.17" r="3.0"/>
<circle cx="623.29" cy="389.11" r="3.0"/>
<circle cx="625.30" cy="389.56" r="3.0"/>
<circle cx="627.30" cy="389.66" r="3.0"/>
<circle cx="629.30" cy="389.57" r="3.0"/>
<circle cx="631.30" cy="389.48" r="3.0"/>
<circle cx="633.30" cy="389.76" r="3.0"/>
<circle cx="635.30" cy="389.58" r="3.0"/>
<circle cx="637.30" cy="389.67" r="3.0"/>
<circle cx="639.30" cy="389.37" r="3.0"/>
<circle cx="641.31" cy="389.81" r="3.0"/>
<circle cx="643.31" cy="389.49" r="3.0"/>
<circle cx="645.31" cy="389.82" r="3.0"/>
<circle cx="647.31" cy="389.88" r="3.0"/>
<circle cx="649.31" cy="389.83" r="3.0"/>
<circle cx="651.31" cy="389.09" r="3.0"/>
<circle cx="653.31" cy="387.29" r="3.0"/>
<circle cx="655.31" cy="387.12" r="3.0"/>
<circle cx="657.31" cy="387.29" r="3.0"/>
<circle cx="659.32" cy="387.20" r="3.0"/>
<circle cx="661.32" cy="387.01" r="3.0"/>
<circle cx="663.32" cy="387.27" r="3.0"/>
<circle cx="665.32" cy="387.29" r="3.0"/>
<circle cx="667.32" cy="387.38" r="3.0"/>
<circle cx="669.32" cy="387.63" r="3.0"/>
<circle cx="671.32" cy="387.18" r="3.0"/>
<circle cx="673.32" cy="387.66" r="3.0"/>
<circle cx="675.33" cy="387.42" r="3.0"/>
</g>
<line x1="255.50" y1="389.25" x2="676.80" y2="389.25" stroke="#e8323a" stroke-width="1.1" stroke-dasharray="2.1,1.9"/>
<rect x="255.50" y="372.00" width="421.30" height="140.80" fill="none" stroke="#2a2a2a" stroke-width="1"/>
<line x1="255.50" y1="512.80" x2="255.50" y2="509.80" stroke="#2a2a2a" stroke-width="1" />
<line x1="297.63" y1="512.80" x2="297.63" y2="509.80" stroke="#2a2a2a" stroke-width="1" />
<line x1="339.76" y1="512.80" x2="339.76" y2="509.80" stroke="#2a2a2a" stroke-width="1" />
<line x1="381.89" y1="512.80" x2="381.89" y2="509.80" stroke="#2a2a2a" stroke-width="1" />
<line x1="424.02" y1="512.80" x2="424.02" y2="509.80" stroke="#2a2a2a" stroke-width="1" />
<line x1="466.15" y1="512.80" x2="466.15" y2="509.80" stroke="#2a2a2a" stroke-width="1" />
<line x1="508.28" y1="512.80" x2="508.28" y2="509.80" stroke="#2a2a2a" stroke-width="1" />
<line x1="550.41" y1="512.80" x2="550.41" y2="509.80" stroke="#2a2a2a" stroke-width="1" />
<line x1="592.54" y1="512.80" x2="592.54" y2="509.80" stroke="#2a2a2a" stroke-width="1" />
<line x1="634.67" y1="512.80" x2="634.67" y2="509.80" stroke="#2a2a2a" stroke-width="1" />
<line x1="676.80" y1="512.80" x2="676.80" y2="509.80" stroke="#2a2a2a" stroke-width="1" />
<line x1="276.56" y1="512.80" x2="276.56" y2="511.00" stroke="#2a2a2a" stroke-width="1" />
<line x1="318.69" y1="512.80" x2="318.69" y2="511.00" stroke="#2a2a2a" stroke-width="1" />
<line x1="360.82" y1="512.80" x2="360.82" y2="511.00" stroke="#2a2a2a" stroke-width="1" />
<line x1="402.95" y1="512.80" x2="402.95" y2="511.00" stroke="#2a2a2a" stroke-width="1" />
<line x1="445.08" y1="512.80" x2="445.08" y2="511.00" stroke="#2a2a2a" stroke-width="1" />
<line x1="487.21" y1="512.80" x2="487.21" y2="511.00" stroke="#2a2a2a" stroke-width="1" />
<line x1="529.35" y1="512.80" x2="529.35" y2="511.00" stroke="#2a2a2a" stroke-width="1" />
<line x1="571.47" y1="512.80" x2="571.47" y2="511.00" stroke="#2a2a2a" stroke-width="1" />
<line x1="613.60" y1="512.80" x2="613.60" y2="511.00" stroke="#2a2a2a" stroke-width="1" />
<line x1="655.73" y1="512.80" x2="655.73" y2="511.00" stroke="#2a2a2a" stroke-width="1" />
<line x1="255.50" y1="512.80" x2="258.50" y2="512.80" stroke="#2a2a2a" stroke-width="1" />
<line x1="255.50" y1="487.14" x2="258.50" y2="487.14" stroke="#2a2a2a" stroke-width="1" />
<line x1="255.50" y1="461.48" x2="258.50" y2="461.48" stroke="#2a2a2a" stroke-width="1" />
<line x1="255.50" y1="435.82" x2="258.50" y2="435.82" stroke="#2a2a2a" stroke-width="1" />
<line x1="255.50" y1="410.16" x2="258.50" y2="410.16" stroke="#2a2a2a" stroke-width="1" />
<line x1="255.50" y1="384.50" x2="258.50" y2="384.50" stroke="#2a2a2a" stroke-width="1" />
<line x1="255.50" y1="499.97" x2="257.30" y2="499.97" stroke="#2a2a2a" stroke-width="1" />
<line x1="255.50" y1="474.31" x2="257.30" y2="474.31" stroke="#2a2a2a" stroke-width="1" />
<line x1="255.50" y1="448.65" x2="257.30" y2="448.65" stroke="#2a2a2a" stroke-width="1" />
<line x1="255.50" y1="422.99" x2="257.30" y2="422.99" stroke="#2a2a2a" stroke-width="1" />
<line x1="255.50" y1="397.33" x2="257.30" y2="397.33" stroke="#2a2a2a" stroke-width="1" />
<text x="255.50" y="523.60" font-size="9.3" font-weight="bold" text-anchor="middle" fill="#111" >0</text>
<text x="297.63" y="523.60" font-size="9.3" font-weight="bold" text-anchor="middle" fill="#111" >20</text>
<text x="339.76" y="523.60" font-size="9.3" font-weight="bold" text-anchor="middle" fill="#111" >40</text>
<text x="381.89" y="523.60" font-size="9.3" font-weight="bold" text-anchor="middle" fill="#111" >60</text>
<text x="424.02" y="523.60" font-size="9.3" font-weight="bold" text-anchor="middle" fill="#111" >80</text>
<text x="466.15" y="523.60" font-size="9.3" font-weight="bold" text-anchor="middle" fill="#111" >100</text>
<text x="508.28" y="523.60" font-size="9.3" font-weight="bold" text-anchor="middle" fill="#111" >120</text>
<text x="550.41" y="523.60" font-size="9.3" font-weight="bold" text-anchor="middle" fill="#111" >140</text>
<text x="592.54" y="523.60" font-size="9.3" font-weight="bold" text-anchor="middle" fill="#111" >160</text>
<text x="634.67" y="523.60" font-size="9.3" font-weight="bold" text-anchor="middle" fill="#111" >180</text>
<text x="676.80" y="523.60" font-size="9.3" font-weight="bold" text-anchor="middle" fill="#111" >200</text>
<text x="251.50" y="516.15" font-size="9.3" font-weight="bold" text-anchor="end" fill="#111" >0.0</text>
<text x="251.50" y="490.49" font-size="9.3" font-weight="bold" text-anchor="end" fill="#111" >0.2</text>
<text x="251.50" y="464.83" font-size="9.3" font-weight="bold" text-anchor="end" fill="#111" >0.4</text>
<text x="251.50" y="439.17" font-size="9.3" font-weight="bold" text-anchor="end" fill="#111" >0.6</text>
<text x="251.50" y="413.51" font-size="9.3" font-weight="bold" text-anchor="end" fill="#111" >0.8</text>
<text x="251.50" y="387.85" font-size="9.3" font-weight="bold" text-anchor="end" fill="#111" >1.0</text>
<text x="466.40" y="536.50" font-size="10.8" font-weight="bold" text-anchor="middle" fill="#111" >Time (h)</text>
<text transform="translate(234.00,441.50) rotate(-90)" font-size="11.0" font-weight="bold" text-anchor="middle" fill="#111">Normalized PCE</text>
<text x="259.80" y="403.70" font-size="9.3" font-weight="bold" text-anchor="start" fill="#111" >Initial PCE = 10.82%</text>
<text x="672.80" y="403.00" font-size="9.3" font-weight="bold" text-anchor="end" fill="#111" >~96% of initial PCE after 200h</text>
<text x="262.00" y="478.90" font-size="9.3" font-weight="bold" text-anchor="start" fill="#111" >MPP tracking</text>
<text x="262.00" y="490.70" font-size="9.3" font-weight="bold" text-anchor="start" fill="#111" >Unencapsulated device</text>
<text x="262.00" y="502.90" font-size="9.3" font-weight="bold" text-anchor="start" fill="#111" >LED lamp, 100 mW cm<tspan dy="-3.3" font-size="6.2">−2</tspan><tspan dy="3.3">​</tspan>, in ambient air, 25 ± 5 °C</text>
</svg></body></html>
